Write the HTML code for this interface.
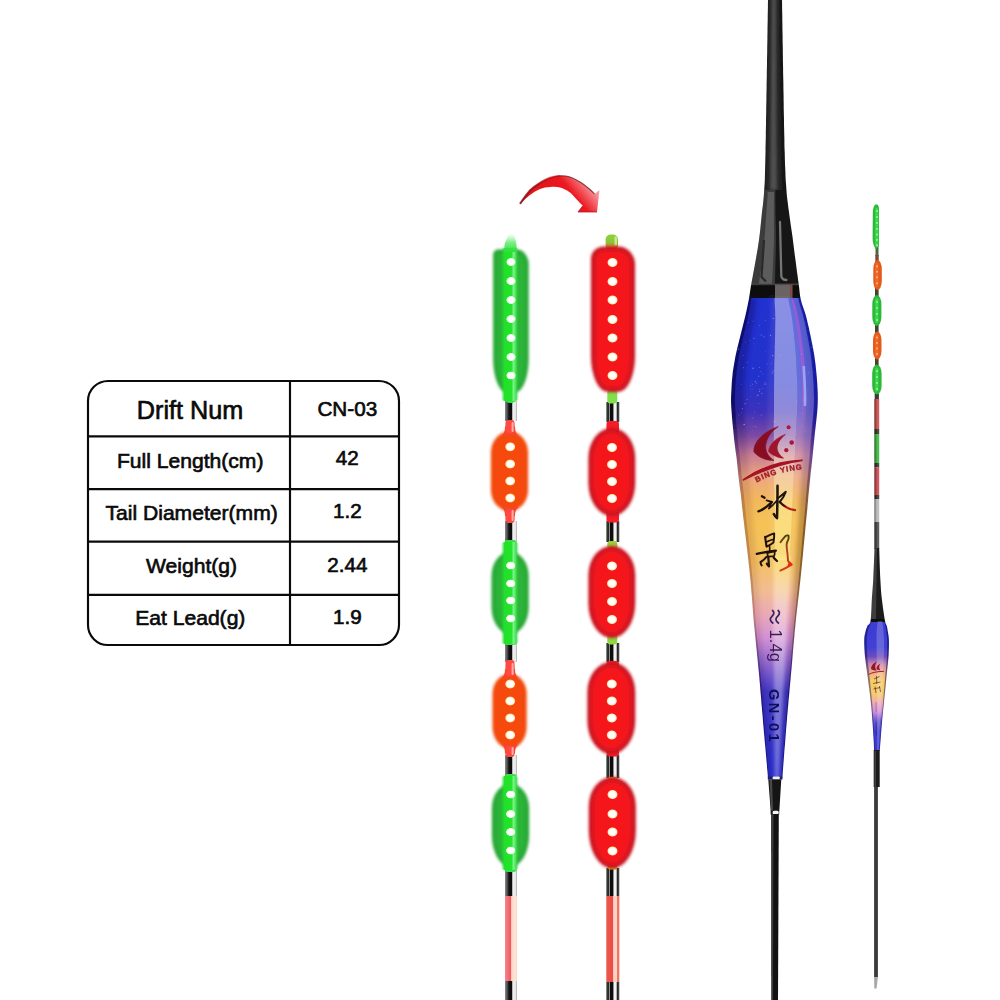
<!DOCTYPE html>
<html><head><meta charset="utf-8"><title>Drift CN-03</title>
<style>
html,body{margin:0;padding:0;background:#fff;}
body{width:1000px;height:1000px;overflow:hidden;position:relative;font-family:"Liberation Sans",sans-serif;}
svg{position:absolute;left:0;top:0;display:block}
text{font-family:"Liberation Sans",sans-serif;}
</style></head><body>
<svg width="1000" height="1000" viewBox="0 0 1000 1000">
<defs>
<filter id="b1" x="-100%" y="-20%" width="300%" height="140%"><feGaussianBlur stdDeviation="1.5"/></filter>
<filter id="b2" x="-100%" y="-20%" width="300%" height="140%"><feGaussianBlur stdDeviation="0.7"/></filter>
<filter id="b05" x="-60%" y="-30%" width="220%" height="160%"><feGaussianBlur stdDeviation="0.45"/></filter>
<filter id="b3" x="-50%" y="-50%" width="200%" height="200%"><feGaussianBlur stdDeviation="2.2"/></filter>
<linearGradient id="stemBlk" x1="0" x2="1" y1="0" y2="0">
 <stop offset="0" stop-color="#8a8a8c"/><stop offset="0.2" stop-color="#4a4a4c"/><stop offset="0.32" stop-color="#141414"/><stop offset="0.58" stop-color="#0a0a0a"/><stop offset="0.64" stop-color="#f2f2f2"/><stop offset="0.88" stop-color="#e6e6e6"/><stop offset="1" stop-color="#a8a8a8"/>
</linearGradient>
<linearGradient id="stemBlk2" x1="0" x2="1" y1="0" y2="0">
 <stop offset="0" stop-color="#4a5a4a"/><stop offset="0.16" stop-color="#1c1c1c"/><stop offset="0.24" stop-color="#9a9a9a"/><stop offset="0.32" stop-color="#111"/><stop offset="0.52" stop-color="#0c0c0c"/><stop offset="0.58" stop-color="#f4f4f4"/><stop offset="0.76" stop-color="#f0f0f0"/><stop offset="0.84" stop-color="#222"/><stop offset="1" stop-color="#555"/>
</linearGradient>
<linearGradient id="stemGrn" x1="0" x2="1" y1="0" y2="0">
 <stop offset="0" stop-color="#39d848"/><stop offset="0.45" stop-color="#2fe83f"/><stop offset="0.7" stop-color="#7cf58a"/><stop offset="1" stop-color="#35dc45"/>
</linearGradient>
<linearGradient id="stemRed" x1="0" x2="1" y1="0" y2="0">
 <stop offset="0" stop-color="#f25a5a"/><stop offset="0.5" stop-color="#f66"/><stop offset="0.75" stop-color="#fbb"/><stop offset="1" stop-color="#f88"/>
</linearGradient>
<linearGradient id="stemPink" x1="0" x2="1" y1="0" y2="0">
 <stop offset="0" stop-color="#f4868c"/><stop offset="0.3" stop-color="#f26a72"/><stop offset="0.48" stop-color="#f05a62"/><stop offset="0.55" stop-color="#fcd8c8"/><stop offset="0.9" stop-color="#fde6da"/><stop offset="1" stop-color="#f6ccc4"/>
</linearGradient>
<linearGradient id="stemRed2" x1="0" x2="1" y1="0" y2="0">
 <stop offset="0" stop-color="#e85850"/><stop offset="0.48" stop-color="#ee4c44"/><stop offset="0.56" stop-color="#fcd0c0"/><stop offset="0.8" stop-color="#fcd6c8"/><stop offset="0.86" stop-color="#f07868"/><stop offset="1" stop-color="#ec6c5e"/>
</linearGradient>
<radialGradient id="dot" cx="0.5" cy="0.5" r="0.5">
 <stop offset="0" stop-color="#fff"/><stop offset="0.55" stop-color="#fff"/><stop offset="0.8" stop-color="#ffe9b0"/><stop offset="1" stop-color="#ffd070" stop-opacity="0"/>
</radialGradient>
<radialGradient id="dotg" cx="0.5" cy="0.5" r="0.5">
 <stop offset="0" stop-color="#fff"/><stop offset="0.6" stop-color="#fff"/><stop offset="0.85" stop-color="#d8ffd8"/><stop offset="1" stop-color="#8f8" stop-opacity="0"/>
</radialGradient>
</defs>

<g fill="none" stroke="#0a0a0a" stroke-width="2.15">
<rect x="88" y="381" width="311" height="264" rx="20" ry="20"/>
<line x1="88" y1="436.3" x2="399" y2="436.3"/>
<line x1="88" y1="489.1" x2="399" y2="489.1"/>
<line x1="88" y1="541.6" x2="399" y2="541.6"/>
<line x1="88" y1="594.9" x2="399" y2="594.9"/>
<line x1="290" y1="381" x2="290" y2="645"/>
</g>
<g fill="#0a0a0a" stroke="#0a0a0a" stroke-width="0.65" text-anchor="middle">
<text x="190" y="418.8" font-size="25.2">Drift Num</text>
<text x="347.3" y="415.8" font-size="20.7">CN-03</text>
<text x="190.2" y="467.9" font-size="21.1">Full Length(cm)</text>
<text x="347.3" y="465.4" font-size="20.6">42</text>
<text x="191.6" y="520.4" font-size="21.1">Tail Diameter(mm)</text>
<text x="347.3" y="518.0" font-size="20.6">1.2</text>
<text x="191.6" y="572.5" font-size="21.1">Weight(g)</text>
<text x="347.3" y="571.6" font-size="20.6">2.44</text>
<text x="190.3" y="625.1" font-size="21.1">Eat Lead(g)</text>
<text x="347.3" y="624.0" font-size="20.6">1.9</text>
</g>
<g filter="url(#b05)">
<rect x="505.0" y="401.0" width="12.0" height="20.0" fill="url(#stemBlk)"/>
<rect x="505.0" y="521.0" width="12.0" height="21.0" fill="url(#stemBlk)"/>
<rect x="505.0" y="643.0" width="12.0" height="19.0" fill="url(#stemBlk)"/>
<rect x="505.0" y="755.0" width="12.0" height="21.0" fill="url(#stemBlk)"/>
<rect x="505.0" y="870.0" width="12.0" height="26.0" fill="url(#stemBlk)"/>
<rect x="505.0" y="896.0" width="12.0" height="85.0" fill="url(#stemPink)"/>
<rect x="505.0" y="981.0" width="12.0" height="19.0" fill="url(#stemBlk)"/>
</g>
<g filter="url(#b2)">
<rect x="504.5" y="250.0" width="12.0" height="153.0" rx="5" fill="#35e244"/>
<rect x="505.5" y="420.0" width="9.0" height="103.0" rx="3" fill="#ff4a40"/>
<rect x="504.5" y="540.0" width="12.0" height="105.0" rx="3" fill="#35e244"/>
<rect x="505.5" y="660.0" width="9.0" height="97.0" rx="3" fill="#ff4a40"/>
<rect x="504.5" y="774.0" width="12.0" height="98.0" rx="3" fill="#35e244"/>
</g>
<path d="M498.20,249.50 L516.60,249.50 A12.00,15.00 0 0 1 528.60,264.50 L528.60,358.00 A13.00,34.00 0 0 1 515.60,392.00 L506.20,392.00 A13.00,34.00 0 0 1 493.20,358.00 L493.20,254.50 A5.00,5.00 0 0 1 498.20,249.50 Z" fill="#27a435" filter="url(#b1)"/>
<path d="M498.20,253.00 L516.60,253.00 A8.50,11.50 0 0 1 525.10,264.50 L525.10,358.00 A9.50,30.50 0 0 1 515.60,388.50 L506.20,388.50 A9.50,30.50 0 0 1 496.70,358.00 L496.70,254.50 A1.50,1.50 0 0 1 498.20,253.00 Z" fill="#29b538" filter="url(#b3)"/>
<path d="M509.50,431.50 L509.50,431.50 A18.50,21.00 0 0 1 528.00,452.50 L528.00,490.00 A18.50,21.00 0 0 1 509.50,511.00 L509.50,511.00 A18.50,21.00 0 0 1 491.00,490.00 L491.00,452.50 A18.50,21.00 0 0 1 509.50,431.50 Z" fill="#f0490e" filter="url(#b1)"/>
<path d="M509.50,435.00 L509.50,435.00 A15.00,17.50 0 0 1 524.50,452.50 L524.50,490.00 A15.00,17.50 0 0 1 509.50,507.50 L509.50,507.50 A15.00,17.50 0 0 1 494.50,490.00 L494.50,452.50 A15.00,17.50 0 0 1 509.50,435.00 Z" fill="#f64a0c" filter="url(#b3)"/>
<path d="M510.10,552.00 L510.10,552.00 A18.50,24.00 0 0 1 528.60,576.00 L528.60,607.00 A18.50,27.00 0 0 1 510.10,634.00 L510.10,634.00 A18.50,27.00 0 0 1 491.60,607.00 L491.60,576.00 A18.50,24.00 0 0 1 510.10,552.00 Z" fill="#27a435" filter="url(#b1)"/>
<path d="M510.10,555.50 L510.10,555.50 A15.00,20.50 0 0 1 525.10,576.00 L525.10,607.00 A15.00,23.50 0 0 1 510.10,630.50 L510.10,630.50 A15.00,23.50 0 0 1 495.10,607.00 L495.10,576.00 A15.00,20.50 0 0 1 510.10,555.50 Z" fill="#29b538" filter="url(#b3)"/>
<path d="M509.60,674.00 L509.60,674.00 A17.00,20.00 0 0 1 526.60,694.00 L526.60,726.50 A17.00,22.00 0 0 1 509.60,748.50 L509.60,748.50 A17.00,22.00 0 0 1 492.60,726.50 L492.60,694.00 A17.00,20.00 0 0 1 509.60,674.00 Z" fill="#f0490e" filter="url(#b1)"/>
<path d="M509.60,677.50 L509.60,677.50 A13.50,16.50 0 0 1 523.10,694.00 L523.10,726.50 A13.50,18.50 0 0 1 509.60,745.00 L509.60,745.00 A13.50,18.50 0 0 1 496.10,726.50 L496.10,694.00 A13.50,16.50 0 0 1 509.60,677.50 Z" fill="#f64a0c" filter="url(#b3)"/>
<path d="M510.50,784.00 L510.50,784.00 A18.50,24.00 0 0 1 529.00,808.00 L529.00,835.50 A18.50,31.00 0 0 1 510.50,866.50 L510.50,866.50 A18.50,31.00 0 0 1 492.00,835.50 L492.00,808.00 A18.50,24.00 0 0 1 510.50,784.00 Z" fill="#27a435" filter="url(#b1)"/>
<path d="M510.50,787.50 L510.50,787.50 A15.00,20.50 0 0 1 525.50,808.00 L525.50,835.50 A15.00,27.50 0 0 1 510.50,863.00 L510.50,863.00 A15.00,27.50 0 0 1 495.50,835.50 L495.50,808.00 A15.00,20.50 0 0 1 510.50,787.50 Z" fill="#29b538" filter="url(#b3)"/>
<path d="M505.0,426.5 C505.0,431.1 504.1,433.5 501.5,435.5 L518.5,435.5 C516.0,433.5 515.0,431.1 515.0,426.5 Z" fill="#f8452a" filter="url(#b2)"/>
<path d="M505.0,669.0 C505.0,673.5 504.1,676.0 501.5,678.0 L518.5,678.0 C516.0,676.0 515.0,673.5 515.0,669.0 Z" fill="#f8452a" filter="url(#b2)"/>
<path d="M505.0,516.0 C505.0,511.4 504.1,509.0 501.5,507.0 L518.5,507.0 C516.0,509.0 515.0,511.4 515.0,516.0 Z" fill="#f8452a" filter="url(#b2)"/>
<path d="M505.0,753.5 C505.0,749.0 504.1,746.5 501.5,744.5 L518.5,744.5 C516.0,746.5 515.0,749.0 515.0,753.5 Z" fill="#f8452a" filter="url(#b2)"/>
<defs><linearGradient id="gstripe" x1="0" x2="1" y1="0" y2="0"><stop offset="0" stop-color="#24dc32" stop-opacity="0"/><stop offset="0.2" stop-color="#22e02c"/><stop offset="0.58" stop-color="#22e42c"/><stop offset="0.7" stop-color="#7af486"/><stop offset="0.8" stop-color="#4ee85c"/><stop offset="1" stop-color="#2cc03c" stop-opacity="0"/></linearGradient>
<linearGradient id="gtip" x1="0" x2="0" y1="0" y2="1"><stop offset="0" stop-color="#6cf078" stop-opacity="0"/><stop offset="0.5" stop-color="#4ce85a" stop-opacity="0.75"/><stop offset="1" stop-color="#2ce03a"/></linearGradient></defs>
<g filter="url(#b2)">
<rect x="501.0" y="248.0" width="18" height="153.0" rx="4" fill="url(#gstripe)"/>
<rect x="501.0" y="542.0" width="18" height="102.0" rx="4" fill="url(#gstripe)"/>
<rect x="501.0" y="776.0" width="18" height="94.0" rx="4" fill="url(#gstripe)"/>
<rect x="505.8" y="421.0" width="8.6" height="12.0" rx="3" fill="#ff4a44" opacity="0.9"/>
<rect x="511.6" y="422.0" width="2" height="10.0" rx="1" fill="#ffb0a8"/>
<rect x="505.8" y="509.0" width="8.6" height="13.0" rx="3" fill="#ff4a44" opacity="0.9"/>
<rect x="511.6" y="510.0" width="2" height="11.0" rx="1" fill="#ffb0a8"/>
<rect x="505.8" y="662.0" width="8.6" height="14.0" rx="3" fill="#ff4a44" opacity="0.9"/>
<rect x="511.6" y="663.0" width="2" height="12.0" rx="1" fill="#ffb0a8"/>
<rect x="505.8" y="746.0" width="8.6" height="10.0" rx="3" fill="#ff4a44" opacity="0.9"/>
<rect x="511.6" y="747.0" width="2" height="8.0" rx="1" fill="#ffb0a8"/>
</g>
<path d="M504,252 L504.6,244 Q508,233.5 511,233.5 Q515,233.5 516.4,244 L517,252 Z" fill="url(#gtip)" filter="url(#b2)"/>
<ellipse cx="511.0" cy="262.0" rx="5.0" ry="4.3" fill="url(#dotg)"/>
<ellipse cx="511.0" cy="281.0" rx="5.0" ry="4.3" fill="url(#dotg)"/>
<ellipse cx="511.0" cy="300.0" rx="5.0" ry="4.3" fill="url(#dotg)"/>
<ellipse cx="511.0" cy="319.0" rx="5.0" ry="4.3" fill="url(#dotg)"/>
<ellipse cx="511.0" cy="338.0" rx="5.0" ry="4.3" fill="url(#dotg)"/>
<ellipse cx="511.0" cy="357.0" rx="5.0" ry="4.3" fill="url(#dotg)"/>
<ellipse cx="511.0" cy="375.5" rx="5.0" ry="4.3" fill="url(#dotg)"/>
<ellipse cx="510.2" cy="446.8" rx="5.4" ry="4.9" fill="url(#dot)"/>
<ellipse cx="510.2" cy="464.0" rx="5.4" ry="4.9" fill="url(#dot)"/>
<ellipse cx="510.2" cy="481.0" rx="5.4" ry="4.9" fill="url(#dot)"/>
<ellipse cx="510.2" cy="498.0" rx="5.4" ry="4.9" fill="url(#dot)"/>
<ellipse cx="510.7" cy="565.5" rx="5.0" ry="4.3" fill="url(#dotg)"/>
<ellipse cx="510.7" cy="583.5" rx="5.0" ry="4.3" fill="url(#dotg)"/>
<ellipse cx="510.7" cy="600.5" rx="5.0" ry="4.3" fill="url(#dotg)"/>
<ellipse cx="510.7" cy="618.5" rx="5.0" ry="4.3" fill="url(#dotg)"/>
<ellipse cx="510.2" cy="684.0" rx="5.4" ry="4.9" fill="url(#dot)"/>
<ellipse cx="510.2" cy="701.0" rx="5.4" ry="4.9" fill="url(#dot)"/>
<ellipse cx="510.2" cy="718.0" rx="5.4" ry="4.9" fill="url(#dot)"/>
<ellipse cx="510.2" cy="735.0" rx="5.4" ry="4.9" fill="url(#dot)"/>
<ellipse cx="510.7" cy="794.5" rx="5.0" ry="4.3" fill="url(#dotg)"/>
<ellipse cx="510.7" cy="814.0" rx="5.0" ry="4.3" fill="url(#dotg)"/>
<ellipse cx="510.7" cy="832.0" rx="5.0" ry="4.3" fill="url(#dotg)"/>
<ellipse cx="510.7" cy="850.5" rx="5.0" ry="4.3" fill="url(#dotg)"/>
<g filter="url(#b05)">
<rect x="606.3" y="402.0" width="13.0" height="20.0" fill="url(#stemBlk2)"/>
<rect x="606.3" y="521.0" width="13.0" height="21.0" fill="url(#stemBlk2)"/>
<rect x="606.3" y="643.0" width="13.0" height="19.0" fill="url(#stemBlk2)"/>
<rect x="606.3" y="755.0" width="13.0" height="23.0" fill="url(#stemBlk2)"/>
<rect x="606.3" y="868.0" width="13.0" height="28.0" fill="url(#stemBlk2)"/>
<rect x="606.3" y="896.0" width="13.0" height="86.0" fill="url(#stemRed2)"/>
<rect x="606.3" y="982.0" width="13.0" height="18.0" fill="url(#stemBlk2)"/>
</g>
<g filter="url(#b2)">
<defs><linearGradient id="rtip" x1="0" x2="0" y1="0" y2="1"><stop offset="0" stop-color="#8ed040"/><stop offset="0.45" stop-color="#86c838"/><stop offset="0.75" stop-color="#c89030"/><stop offset="1" stop-color="#f03020"/></linearGradient></defs>
<rect x="605.6" y="234.5" width="12.4" height="16" rx="5" fill="url(#rtip)"/>
<rect x="614.4" y="236.5" width="2.6" height="9" rx="1.3" fill="#d8f0a0" opacity="0.8"/>
<rect x="607.3" y="390.0" width="10.0" height="13.5" rx="3" fill="#7fe048"/>
<rect x="606.5" y="421.0" width="12.5" height="13.0" rx="3" fill="#f81c28"/>
<rect x="606.5" y="510.0" width="12.5" height="12.5" rx="3" fill="#f81c28"/>
<rect x="607.3" y="541.0" width="10.0" height="9.0" rx="3" fill="#9ccc38"/>
<rect x="607.3" y="634.0" width="10.0" height="10.5" rx="3" fill="#8fd840"/>
<rect x="606.5" y="661.0" width="12.5" height="9.0" rx="3" fill="#f81c28"/>
<rect x="606.5" y="746.0" width="12.5" height="10.5" rx="3" fill="#f81c28"/>
<rect x="607.3" y="777.0" width="10.0" height="5.0" rx="3" fill="#c8a820"/>
<rect x="607.3" y="864.0" width="10.0" height="5.5" rx="3" fill="#c8b020"/>
</g>
<path d="M604.00,246.50 L618.00,246.50 A17.00,18.00 0 0 1 635.00,264.50 L635.00,356.00 A17.00,36.00 0 0 1 618.00,392.00 L608.00,392.00 A17.00,36.00 0 0 1 591.00,356.00 L591.00,258.50 A13.00,12.00 0 0 1 604.00,246.50 Z" fill="#c41622" filter="url(#b1)"/>
<path d="M604.00,250.50 L618.00,250.50 A13.00,14.00 0 0 1 631.00,264.50 L631.00,356.00 A13.00,32.00 0 0 1 618.00,388.00 L608.00,388.00 A13.00,32.00 0 0 1 595.00,356.00 L595.00,258.50 A9.00,8.00 0 0 1 604.00,250.50 Z" fill="#f5141f" filter="url(#b3)"/>
<path d="M611.80,428.00 L611.80,428.00 A23.40,30.00 0 0 1 635.20,458.00 L635.20,483.00 A23.40,33.00 0 0 1 611.80,516.00 L611.80,516.00 A23.40,33.00 0 0 1 588.40,483.00 L588.40,458.00 A23.40,30.00 0 0 1 611.80,428.00 Z" fill="#c41622" filter="url(#b1)"/>
<path d="M611.80,432.00 L611.80,432.00 A19.40,26.00 0 0 1 631.20,458.00 L631.20,483.00 A19.40,29.00 0 0 1 611.80,512.00 L611.80,512.00 A19.40,29.00 0 0 1 592.40,483.00 L592.40,458.00 A19.40,26.00 0 0 1 611.80,432.00 Z" fill="#f5141f" filter="url(#b3)"/>
<path d="M611.80,546.00 L611.80,546.00 A23.40,29.00 0 0 1 635.20,575.00 L635.20,603.00 A23.40,35.00 0 0 1 611.80,638.00 L611.80,638.00 A23.40,35.00 0 0 1 588.40,603.00 L588.40,575.00 A23.40,29.00 0 0 1 611.80,546.00 Z" fill="#c41622" filter="url(#b1)"/>
<path d="M611.80,550.00 L611.80,550.00 A19.40,25.00 0 0 1 631.20,575.00 L631.20,603.00 A19.40,31.00 0 0 1 611.80,634.00 L611.80,634.00 A19.40,31.00 0 0 1 592.40,603.00 L592.40,575.00 A19.40,25.00 0 0 1 611.80,550.00 Z" fill="#f5141f" filter="url(#b3)"/>
<path d="M611.30,662.00 L611.30,662.00 A23.90,30.00 0 0 1 635.20,692.00 L635.20,721.00 A23.90,33.00 0 0 1 611.30,754.00 L611.30,754.00 A23.90,33.00 0 0 1 587.40,721.00 L587.40,692.00 A23.90,30.00 0 0 1 611.30,662.00 Z" fill="#c41622" filter="url(#b1)"/>
<path d="M611.30,666.00 L611.30,666.00 A19.90,26.00 0 0 1 631.20,692.00 L631.20,721.00 A19.90,29.00 0 0 1 611.30,750.00 L611.30,750.00 A19.90,29.00 0 0 1 591.40,721.00 L591.40,692.00 A19.90,26.00 0 0 1 611.30,666.00 Z" fill="#f5141f" filter="url(#b3)"/>
<path d="M612.30,777.00 L612.30,777.00 A23.50,29.00 0 0 1 635.80,806.00 L635.80,830.50 A23.50,38.00 0 0 1 612.30,868.50 L612.30,868.50 A23.50,38.00 0 0 1 588.80,830.50 L588.80,806.00 A23.50,29.00 0 0 1 612.30,777.00 Z" fill="#c41622" filter="url(#b1)"/>
<path d="M612.30,781.00 L612.30,781.00 A19.50,25.00 0 0 1 631.80,806.00 L631.80,830.50 A19.50,34.00 0 0 1 612.30,864.50 L612.30,864.50 A19.50,34.00 0 0 1 592.80,830.50 L592.80,806.00 A19.50,25.00 0 0 1 612.30,781.00 Z" fill="#f5141f" filter="url(#b3)"/>
<ellipse cx="612.5" cy="262.5" rx="5.5" ry="5.0" fill="url(#dot)"/>
<ellipse cx="612.5" cy="281.5" rx="5.5" ry="5.0" fill="url(#dot)"/>
<ellipse cx="612.5" cy="300.0" rx="5.5" ry="5.0" fill="url(#dot)"/>
<ellipse cx="612.5" cy="319.5" rx="5.5" ry="5.0" fill="url(#dot)"/>
<ellipse cx="612.5" cy="338.0" rx="5.5" ry="5.0" fill="url(#dot)"/>
<ellipse cx="612.5" cy="357.0" rx="5.5" ry="5.0" fill="url(#dot)"/>
<ellipse cx="612.5" cy="375.5" rx="5.5" ry="5.0" fill="url(#dot)"/>
<ellipse cx="612.0" cy="447.5" rx="5.5" ry="5.0" fill="url(#dot)"/>
<ellipse cx="612.0" cy="464.5" rx="5.5" ry="5.0" fill="url(#dot)"/>
<ellipse cx="612.0" cy="481.5" rx="5.5" ry="5.0" fill="url(#dot)"/>
<ellipse cx="612.0" cy="498.5" rx="5.5" ry="5.0" fill="url(#dot)"/>
<ellipse cx="612.0" cy="566.0" rx="5.5" ry="5.0" fill="url(#dot)"/>
<ellipse cx="612.0" cy="583.5" rx="5.5" ry="5.0" fill="url(#dot)"/>
<ellipse cx="612.0" cy="601.5" rx="5.5" ry="5.0" fill="url(#dot)"/>
<ellipse cx="612.0" cy="619.5" rx="5.5" ry="5.0" fill="url(#dot)"/>
<ellipse cx="611.8" cy="684.0" rx="5.5" ry="5.0" fill="url(#dot)"/>
<ellipse cx="611.8" cy="701.0" rx="5.5" ry="5.0" fill="url(#dot)"/>
<ellipse cx="611.8" cy="718.0" rx="5.5" ry="5.0" fill="url(#dot)"/>
<ellipse cx="611.8" cy="735.0" rx="5.5" ry="5.0" fill="url(#dot)"/>
<ellipse cx="612.5" cy="794.5" rx="5.5" ry="5.0" fill="url(#dot)"/>
<ellipse cx="612.5" cy="814.0" rx="5.5" ry="5.0" fill="url(#dot)"/>
<ellipse cx="612.5" cy="832.0" rx="5.5" ry="5.0" fill="url(#dot)"/>
<ellipse cx="612.5" cy="851.0" rx="5.5" ry="5.0" fill="url(#dot)"/>
<defs><linearGradient id="arr" gradientUnits="userSpaceOnUse" x1="566" y1="214" x2="600" y2="186">
<stop offset="0" stop-color="#e4121a"/><stop offset="0.42" stop-color="#ec1a22"/><stop offset="0.62" stop-color="#f2555c"/><stop offset="0.85" stop-color="#f79aa0"/><stop offset="1" stop-color="#f9b0b4"/></linearGradient>
<linearGradient id="arrT" gradientUnits="userSpaceOnUse" x1="520" y1="0" x2="560" y2="0">
<stop offset="0" stop-color="#8a0c12"/><stop offset="1" stop-color="#e4121a"/></linearGradient>
</defs>
<g filter="url(#b05)">
<path d="M520.00,203.80 C521.67,201.58 526.67,193.97 530.00,190.50 C533.33,187.03 536.67,185.08 540.00,183.00 C543.33,180.92 546.67,179.20 550.00,178.00 C553.33,176.80 556.67,175.97 560.00,175.80 C563.33,175.63 566.67,175.97 570.00,177.00 C573.33,178.03 576.67,179.92 580.00,182.00 C583.33,184.08 587.58,187.50 590.00,189.50 C592.42,191.50 593.75,193.25 594.50,194.00 L599.5,190 L597,212 L578,212 L583.00,205.50 C582.50,205.08 582.17,205.17 580.00,203.00 C577.83,200.83 573.33,195.08 570.00,192.50 C566.67,189.92 563.33,188.42 560.00,187.50 C556.67,186.58 553.33,186.75 550.00,187.00 C546.67,187.25 543.33,187.67 540.00,189.00 C536.67,190.33 533.33,192.53 530.00,195.00 C526.67,197.47 521.67,202.33 520.00,203.80 Z" fill="url(#arr)"/>
<path d="M520.00,203.80 C521.67,201.58 526.67,193.97 530.00,190.50 C533.33,187.03 536.67,185.08 540.00,183.00 C543.33,180.92 546.67,179.20 550.00,178.00 C553.33,176.80 556.67,175.97 560.00,175.80 C563.33,175.63 566.67,175.97 570.00,177.00 C573.33,178.03 576.67,179.92 580.00,182.00 C583.33,184.08 587.58,187.50 590.00,189.50 C592.42,191.50 593.75,193.25 594.50,194.00" fill="none" stroke="#5a0a0e" stroke-width="1.2" opacity="0.7"/>
<path d="M520.00,203.80 C521.67,201.58 526.67,193.97 530.00,190.50 C533.33,187.03 536.67,185.08 540.00,183.00 C543.33,180.92 546.67,179.20 550.00,178.00 C553.33,176.80 558.33,176.17 560.00,175.80" fill="none" stroke="url(#arrT)" stroke-width="2.4" opacity="0.6"/>
<path d="M597,212 L578,212 L583,205.5" fill="none" stroke="#b00c14" stroke-width="1" opacity="0.7"/>
</g>
<defs><clipPath id="bigclip"><path d="M768.0,0.0 L767.9,4.0 L767.9,8.0 L767.8,12.0 L767.7,16.0 L767.7,20.0 L767.6,24.0 L767.5,28.0 L767.5,32.0 L767.4,36.0 L767.4,40.0 L767.3,44.0 L767.2,48.0 L767.2,52.0 L767.1,56.0 L767.0,60.0 L767.0,64.0 L766.9,68.0 L766.8,72.0 L766.8,76.0 L766.7,80.0 L766.6,84.0 L766.6,88.0 L766.5,92.0 L766.4,96.0 L766.4,100.0 L766.3,104.0 L766.2,108.0 L766.2,112.0 L766.1,116.0 L766.0,120.0 L766.0,124.0 L765.9,128.0 L765.8,132.0 L765.8,136.0 L765.7,140.0 L765.6,144.0 L765.5,148.0 L765.5,152.0 L765.4,156.0 L765.3,160.0 L765.2,164.0 L765.1,168.0 L765.0,172.0 L764.9,176.0 L764.8,180.0 L764.6,184.0 L764.3,188.0 L764.1,192.0 L763.8,196.0 L763.4,200.0 L763.0,204.0 L762.5,208.0 L762.0,212.0 L761.6,216.0 L761.2,220.0 L760.8,224.0 L760.4,228.0 L760.0,232.0 L759.5,236.0 L759.0,240.0 L758.4,244.0 L757.8,248.0 L757.1,252.0 L756.4,256.0 L755.7,260.0 L755.0,264.0 L754.3,268.0 L753.5,272.0 L752.8,276.0 L752.0,280.0 L751.3,284.0 L750.6,288.0 L750.0,292.0 L749.4,296.0 L748.7,300.0 L747.9,304.0 L747.1,308.0 L746.2,312.0 L745.3,316.0 L744.3,320.0 L743.3,324.0 L742.3,328.0 L741.3,332.0 L740.3,336.0 L739.3,340.0 L738.3,344.0 L737.3,348.0 L736.4,352.0 L735.5,356.0 L734.8,360.0 L734.1,364.0 L733.4,368.0 L732.8,372.0 L732.4,376.0 L732.0,380.0 L731.7,384.0 L731.5,388.0 L731.3,392.0 L731.1,396.0 L731.0,400.0 L731.1,404.0 L731.3,408.0 L731.6,412.0 L731.9,416.0 L732.2,420.0 L732.6,424.0 L733.0,428.0 L733.4,432.0 L733.8,436.0 L734.2,440.0 L734.7,444.0 L735.2,448.0 L735.7,452.0 L736.3,456.0 L736.8,460.0 L737.2,464.0 L737.6,468.0 L738.0,472.0 L738.4,476.0 L738.9,480.0 L739.4,484.0 L739.9,488.0 L740.5,492.0 L741.0,496.0 L741.4,500.0 L741.8,504.0 L742.2,508.0 L742.7,512.0 L743.1,516.0 L743.6,520.0 L744.1,524.0 L744.5,528.0 L745.0,532.0 L745.5,536.0 L746.0,540.0 L746.4,544.0 L746.9,548.0 L747.4,552.0 L747.8,556.0 L748.3,560.0 L748.7,564.0 L749.2,568.0 L749.6,572.0 L750.0,576.0 L750.4,580.0 L750.8,584.0 L751.1,588.0 L751.4,592.0 L751.8,596.0 L752.1,600.0 L752.4,604.0 L752.7,608.0 L753.0,612.0 L753.3,616.0 L753.6,620.0 L754.0,624.0 L754.4,628.0 L754.8,632.0 L755.2,636.0 L755.6,640.0 L756.0,644.0 L756.4,648.0 L756.8,652.0 L757.2,656.0 L757.6,660.0 L758.0,664.0 L758.4,668.0 L758.8,672.0 L759.2,676.0 L759.5,680.0 L759.9,684.0 L760.2,688.0 L760.5,692.0 L760.9,696.0 L761.2,700.0 L761.5,704.0 L761.9,708.0 L762.2,712.0 L762.6,716.0 L762.9,720.0 L763.2,724.0 L763.6,728.0 L763.9,732.0 L764.3,736.0 L764.6,740.0 L765.0,744.0 L765.4,748.0 L765.7,752.0 L766.1,756.0 L766.4,760.0 L766.8,764.0 L767.1,768.0 L767.5,772.0 L767.8,776.0 L768.0,778.0 L782.3,778.0 L782.5,776.0 L782.8,772.0 L783.1,768.0 L783.4,764.0 L783.7,760.0 L784.0,756.0 L784.3,752.0 L784.6,748.0 L785.0,744.0 L785.3,740.0 L785.6,736.0 L785.9,732.0 L786.2,728.0 L786.6,724.0 L786.9,720.0 L787.2,716.0 L787.6,712.0 L787.9,708.0 L788.3,704.0 L788.6,700.0 L789.0,696.0 L789.4,692.0 L789.7,688.0 L790.1,684.0 L790.5,680.0 L790.8,676.0 L791.2,672.0 L791.6,668.0 L791.9,664.0 L792.3,660.0 L792.6,656.0 L792.9,652.0 L793.3,648.0 L793.6,644.0 L794.0,640.0 L794.4,636.0 L794.7,632.0 L795.1,628.0 L795.5,624.0 L795.9,620.0 L796.3,616.0 L796.8,612.0 L797.2,608.0 L797.7,604.0 L798.1,600.0 L798.6,596.0 L799.1,592.0 L799.5,588.0 L799.9,584.0 L800.4,580.0 L800.8,576.0 L801.2,572.0 L801.6,568.0 L802.0,564.0 L802.4,560.0 L802.8,556.0 L803.2,552.0 L803.5,548.0 L803.9,544.0 L804.3,540.0 L804.7,536.0 L805.1,532.0 L805.4,528.0 L805.8,524.0 L806.2,520.0 L806.6,516.0 L807.0,512.0 L807.4,508.0 L807.7,504.0 L808.1,500.0 L808.4,496.0 L808.8,492.0 L809.2,488.0 L809.6,484.0 L810.0,480.0 L810.4,476.0 L810.8,472.0 L811.3,468.0 L811.7,464.0 L812.2,460.0 L812.6,456.0 L813.0,452.0 L813.4,448.0 L813.8,444.0 L814.2,440.0 L814.6,436.0 L815.0,432.0 L815.5,428.0 L815.9,424.0 L816.4,420.0 L816.8,416.0 L817.2,412.0 L817.5,408.0 L817.7,404.0 L817.8,400.0 L817.8,396.0 L817.7,392.0 L817.5,388.0 L817.3,384.0 L817.0,380.0 L816.7,376.0 L816.3,372.0 L815.9,368.0 L815.5,364.0 L814.9,360.0 L814.4,356.0 L813.7,352.0 L813.0,348.0 L812.2,344.0 L811.4,340.0 L810.6,336.0 L809.7,332.0 L808.9,328.0 L807.9,324.0 L807.0,320.0 L806.0,316.0 L804.8,312.0 L803.4,308.0 L802.0,304.0 L800.9,300.0 L800.1,296.0 L799.6,292.0 L799.2,288.0 L798.7,284.0 L798.1,280.0 L797.6,276.0 L797.0,272.0 L796.5,268.0 L796.0,264.0 L795.5,260.0 L794.9,256.0 L794.4,252.0 L793.9,248.0 L793.4,244.0 L792.9,240.0 L792.4,236.0 L791.8,232.0 L791.2,228.0 L790.6,224.0 L790.1,220.0 L789.5,216.0 L789.0,212.0 L788.4,208.0 L787.9,204.0 L787.4,200.0 L786.9,196.0 L786.6,192.0 L786.3,188.0 L786.0,184.0 L785.7,180.0 L785.5,176.0 L785.4,172.0 L785.2,168.0 L785.0,164.0 L784.9,160.0 L784.8,156.0 L784.7,152.0 L784.5,148.0 L784.4,144.0 L784.4,140.0 L784.3,136.0 L784.2,132.0 L784.1,128.0 L784.0,124.0 L784.0,120.0 L783.9,116.0 L783.8,112.0 L783.7,108.0 L783.7,104.0 L783.6,100.0 L783.6,96.0 L783.5,92.0 L783.4,88.0 L783.4,84.0 L783.3,80.0 L783.2,76.0 L783.1,72.0 L783.1,68.0 L783.0,64.0 L782.9,60.0 L782.9,56.0 L782.8,52.0 L782.8,48.0 L782.7,44.0 L782.6,40.0 L782.6,36.0 L782.5,32.0 L782.4,28.0 L782.4,24.0 L782.3,20.0 L782.3,16.0 L782.2,12.0 L782.1,8.0 L782.1,4.0 L782.0,0.0 Z"/></clipPath>
<linearGradient id="bodyV" x1="0" x2="0" y1="298" y2="778" gradientUnits="userSpaceOnUse">
<stop offset="0" stop-color="#2430d0"/>
<stop offset="0.17" stop-color="#2430cc"/>
<stop offset="0.235" stop-color="#3a30bc"/>
<stop offset="0.285" stop-color="#7a48a4"/>
<stop offset="0.325" stop-color="#c67a94"/>
<stop offset="0.37" stop-color="#eba680"/>
<stop offset="0.42" stop-color="#f3b85e"/>
<stop offset="0.47" stop-color="#f5c256"/>
<stop offset="0.55" stop-color="#f4c062"/>
<stop offset="0.61" stop-color="#f2bc92"/>
<stop offset="0.66" stop-color="#eaa8b8"/>
<stop offset="0.71" stop-color="#d090d4"/>
<stop offset="0.765" stop-color="#8c64cc"/>
<stop offset="0.82" stop-color="#4238c4"/>
<stop offset="1" stop-color="#2a2ccc"/>
</linearGradient>
<linearGradient id="hlV" x1="0" x2="0" y1="298" y2="778" gradientUnits="userSpaceOnUse">
<stop offset="0" stop-color="#fff" stop-opacity="0.42"/>
<stop offset="0.28" stop-color="#fff" stop-opacity="0.38"/>
<stop offset="0.38" stop-color="#fff6c0" stop-opacity="0.42"/>
<stop offset="0.46" stop-color="#fff088" stop-opacity="0.55"/>
<stop offset="0.56" stop-color="#fff088" stop-opacity="0.5"/>
<stop offset="0.64" stop-color="#fff" stop-opacity="0.3"/>
<stop offset="1" stop-color="#fff" stop-opacity="0.22"/>
</linearGradient>
</defs>
<g clip-path="url(#bigclip)" filter="url(#b05)">
<rect x="720" y="-5" width="120" height="200" fill="#232323"/>
<path d="M771.6,-8.0 L771.6,-2.0 L771.6,4.0 L771.6,10.0 L771.5,16.0 L771.5,22.0 L771.4,28.0 L771.4,34.0 L771.3,40.0 L771.3,46.0 L771.2,52.0 L771.2,58.0 L771.1,64.0 L771.1,70.0 L771.0,76.0 L771.0,82.0 L771.0,88.0 L770.9,94.0 L770.9,100.0 L770.8,106.0 L770.8,112.0 L770.7,118.0 L770.7,124.0 L770.6,130.0 L770.6,136.0 L770.5,142.0 L770.5,148.0 L770.4,154.0 L770.4,160.0 L770.4,166.0 L770.3,172.0 L770.3,178.0 L770.1,184.0 L770.0,190.0 L777.1,190.0 L777.0,184.0 L776.9,178.0 L776.8,172.0 L776.7,166.0 L776.7,160.0 L776.6,154.0 L776.6,148.0 L776.5,142.0 L776.5,136.0 L776.5,130.0 L776.4,124.0 L776.4,118.0 L776.4,112.0 L776.4,106.0 L776.4,100.0 L776.4,94.0 L776.3,88.0 L776.3,82.0 L776.3,76.0 L776.3,70.0 L776.3,64.0 L776.3,58.0 L776.2,52.0 L776.2,46.0 L776.2,40.0 L776.2,34.0 L776.2,28.0 L776.2,22.0 L776.2,16.0 L776.1,10.0 L776.1,4.0 L776.1,-2.0 L776.1,-8.0 Z" fill="#505050" filter="url(#b1)"/>
<path d="M779.5,-8.0 L779.5,-2.0 L779.5,4.0 L779.6,10.0 L779.6,16.0 L779.7,22.0 L779.8,28.0 L779.8,34.0 L779.9,40.0 L779.9,46.0 L780.0,52.0 L780.1,58.0 L780.1,64.0 L780.2,70.0 L780.3,76.0 L780.3,82.0 L780.4,88.0 L780.5,94.0 L780.5,100.0 L780.6,106.0 L780.6,112.0 L780.7,118.0 L780.8,124.0 L780.9,130.0 L780.9,136.0 L781.0,142.0 L781.1,148.0 L781.2,154.0 L781.4,160.0 L781.5,166.0 L781.7,172.0 L781.9,178.0 L782.1,184.0 L782.4,190.0 L787.5,190.0 L787.1,184.0 L786.7,178.0 L786.4,172.0 L786.1,166.0 L785.9,160.0 L785.7,154.0 L785.5,148.0 L785.3,142.0 L785.2,136.0 L785.1,130.0 L784.9,124.0 L784.8,118.0 L784.7,112.0 L784.6,106.0 L784.5,100.0 L784.4,94.0 L784.3,88.0 L784.2,82.0 L784.0,76.0 L783.9,70.0 L783.8,64.0 L783.7,58.0 L783.6,52.0 L783.5,46.0 L783.4,40.0 L783.3,34.0 L783.2,28.0 L783.1,22.0 L783.0,16.0 L782.9,10.0 L782.8,4.0 L782.7,-2.0 L782.7,-8.0 Z" fill="#171717" filter="url(#b2)"/>
<rect x="720" y="190" width="120" height="95" fill="#161616"/>
<path d="M764.2,190.0 L763.8,196.0 L763.2,202.0 L762.5,208.0 L761.8,214.0 L761.2,220.0 L760.6,226.0 L760.0,232.0 L759.3,238.0 L758.4,244.0 L757.4,250.0 L756.4,256.0 L755.3,262.0 L754.3,268.0 L753.2,274.0 L752.0,280.0 L751.3,284.0 L775.0,284.0 L775.1,280.0 L775.2,274.0 L775.4,268.0 L775.5,262.0 L775.7,256.0 L775.8,250.0 L775.9,244.0 L775.9,238.0 L775.9,232.0 L775.8,226.0 L775.6,220.0 L775.5,214.0 L775.5,208.0 L775.4,202.0 L775.3,196.0 L775.3,190.0 Z" fill="#3a3a3a"/>
<path d="M767.7,192.0 L767.4,198.0 L767.0,204.0 L766.5,210.0 L766.1,216.0 L765.7,222.0 L765.3,228.0 L764.9,234.0 L764.4,240.0 L763.8,246.0 L763.1,252.0 L762.3,258.0 L761.5,264.0 L760.8,270.0 L759.9,276.0 L759.1,282.0 L758.9,284.0 L772.2,284.0 L772.2,282.0 L772.5,276.0 L772.8,270.0 L773.0,264.0 L773.3,258.0 L773.5,252.0 L773.8,246.0 L773.9,240.0 L774.0,234.0 L774.0,228.0 L773.9,222.0 L773.9,216.0 L773.9,210.0 L773.9,204.0 L774.0,198.0 L774.0,192.0 Z" fill="#5c5c5c" filter="url(#b2)"/>
<path d="M764,240 L761.5,277 L766,281.5" fill="none" stroke="#2a2a2a" stroke-width="2.2" stroke-linejoin="round"/>
<path d="M780,222 L781.3,276 Q782,280 786.5,280" fill="none" stroke="#747474" stroke-width="2.3" stroke-linecap="round"/>
<rect x="720" y="284" width="120" height="14.5" fill="#111"/>
<rect x="775" y="284" width="15.5" height="14.5" fill="#6a6464"/>
<rect x="790.2" y="284" width="2.3" height="14.5" fill="#8a4a44"/>
<rect x="720" y="283.5" width="120" height="1.6" fill="#4a4a4a" opacity="0.8"/>
<rect x="720" y="298" width="120" height="480" fill="url(#bodyV)"/>
<defs><linearGradient id="vg1" gradientUnits="userSpaceOnUse" x1="0" x2="0" y1="298" y2="778"><stop offset="0.0000" stop-color="#050540" stop-opacity="0.55"/><stop offset="0.2542" stop-color="#050540" stop-opacity="0.55"/><stop offset="0.3167" stop-color="#40205a" stop-opacity="0.42"/><stop offset="0.3792" stop-color="#6a3030" stop-opacity="0.32"/><stop offset="0.4625" stop-color="#7a3420" stop-opacity="0.3"/><stop offset="0.6708" stop-color="#7a3420" stop-opacity="0.28"/><stop offset="0.7542" stop-color="#2a1060" stop-opacity="0.45"/><stop offset="0.8375" stop-color="#0a0850" stop-opacity="0.5"/><stop offset="1.0000" stop-color="#0a0850" stop-opacity="0.5"/></linearGradient></defs>
<defs><linearGradient id="vg2" gradientUnits="userSpaceOnUse" x1="0" x2="0" y1="298" y2="778"><stop offset="0.0000" stop-color="#141490" stop-opacity="0.6"/><stop offset="0.2542" stop-color="#141490" stop-opacity="0.6"/><stop offset="0.3271" stop-color="#3a2890" stop-opacity="0.5"/><stop offset="0.4000" stop-color="#4a2430" stop-opacity="0.48"/><stop offset="0.4833" stop-color="#4a2008" stop-opacity="0.5"/><stop offset="0.6708" stop-color="#4a2008" stop-opacity="0.45"/><stop offset="0.7542" stop-color="#200850" stop-opacity="0.5"/><stop offset="0.8375" stop-color="#060440" stop-opacity="0.55"/><stop offset="1.0000" stop-color="#060440" stop-opacity="0.55"/></linearGradient></defs>
<path d="M747.5,298.0 L746.3,304.0 L745.0,310.0 L743.5,316.0 L741.9,322.0 L740.3,328.0 L738.7,334.0 L737.1,340.0 L735.5,346.0 L734.0,352.0 L732.7,358.0 L731.6,364.0 L730.6,370.0 L729.9,376.0 L729.3,382.0 L728.9,388.0 L728.6,394.0 L728.4,400.0 L728.6,406.0 L729.0,412.0 L729.5,418.0 L730.1,424.0 L730.7,430.0 L731.4,436.0 L732.1,442.0 L732.9,448.0 L733.7,454.0 L734.5,460.0 L735.2,466.0 L735.8,472.0 L736.5,478.0 L737.3,484.0 L738.1,490.0 L739.0,496.0 L739.6,502.0 L740.2,508.0 L741.0,514.0 L741.7,520.0 L742.5,526.0 L743.2,532.0 L744.0,538.0 L744.7,544.0 L745.4,550.0 L746.2,556.0 L746.9,562.0 L747.6,568.0 L748.3,574.0 L748.9,580.0 L749.5,586.0 L750.0,592.0 L750.5,598.0 L751.0,604.0 L751.5,610.0 L752.0,616.0 L752.6,622.0 L753.2,628.0 L753.8,634.0 L754.4,640.0 L755.1,646.0 L755.7,652.0 L756.4,658.0 L757.0,664.0 L757.6,670.0 L758.2,676.0 L758.8,682.0 L759.3,688.0 L759.9,694.0 L760.4,700.0 L760.9,706.0 L761.5,712.0 L762.0,718.0 L762.5,724.0 L763.1,730.0 L763.7,736.0 L764.2,742.0 L764.8,748.0 L765.3,754.0 L765.9,760.0 L766.5,766.0 L767.0,772.0 L767.6,778.0 L768.6,778.0 L768.2,772.0 L767.7,766.0 L767.2,760.0 L766.7,754.0 L766.2,748.0 L765.7,742.0 L765.3,736.0 L764.8,730.0 L764.3,724.0 L763.8,718.0 L763.4,712.0 L762.9,706.0 L762.4,700.0 L762.0,694.0 L761.5,688.0 L761.1,682.0 L760.6,676.0 L760.1,670.0 L759.6,664.0 L759.0,658.0 L758.4,652.0 L757.9,646.0 L757.3,640.0 L756.7,634.0 L756.2,628.0 L755.7,622.0 L755.2,616.0 L754.8,610.0 L754.4,604.0 L754.0,598.0 L753.6,592.0 L753.1,586.0 L752.6,580.0 L752.1,574.0 L751.5,568.0 L750.9,562.0 L750.3,556.0 L749.7,550.0 L749.0,544.0 L748.4,538.0 L747.7,532.0 L747.1,526.0 L746.4,520.0 L745.8,514.0 L745.1,508.0 L744.6,502.0 L744.0,496.0 L743.3,490.0 L742.6,484.0 L741.9,478.0 L741.3,472.0 L740.7,466.0 L740.2,460.0 L739.5,454.0 L738.7,448.0 L738.1,442.0 L737.4,436.0 L736.9,430.0 L736.3,424.0 L735.9,418.0 L735.5,412.0 L735.1,406.0 L734.9,400.0 L735.0,394.0 L735.3,388.0 L735.7,382.0 L736.2,376.0 L736.9,370.0 L737.7,364.0 L738.7,358.0 L739.8,352.0 L741.1,346.0 L742.5,340.0 L743.9,334.0 L745.3,328.0 L746.7,322.0 L748.1,316.0 L749.3,310.0 L750.4,304.0 L751.4,298.0 Z" fill="url(#vg1)" filter="url(#b2)"/>
<path d="M746.5,298.0 L745.2,304.0 L743.8,310.0 L742.3,316.0 L740.6,322.0 L739.0,328.0 L737.3,334.0 L735.7,340.0 L734.0,346.0 L732.5,352.0 L731.2,358.0 L730.0,364.0 L729.0,370.0 L728.2,376.0 L727.6,382.0 L727.2,388.0 L726.8,394.0 L726.7,400.0 L726.9,406.0 L727.3,412.0 L727.8,418.0 L728.4,424.0 L729.1,430.0 L729.8,436.0 L730.5,442.0 L731.3,448.0 L732.2,454.0 L733.0,460.0 L733.7,466.0 L734.4,472.0 L735.1,478.0 L735.9,484.0 L736.8,490.0 L737.6,496.0 L738.3,502.0 L738.9,508.0 L739.7,514.0 L740.5,520.0 L741.2,526.0 L742.0,532.0 L742.8,538.0 L743.6,544.0 L744.3,550.0 L745.1,556.0 L745.8,562.0 L746.5,568.0 L747.2,574.0 L747.9,580.0 L748.5,586.0 L749.1,592.0 L749.6,598.0 L750.1,604.0 L750.6,610.0 L751.2,616.0 L751.7,622.0 L752.3,628.0 L753.0,634.0 L753.6,640.0 L754.3,646.0 L755.0,652.0 L755.7,658.0 L756.3,664.0 L757.0,670.0 L757.6,676.0 L758.2,682.0 L758.7,688.0 L759.3,694.0 L759.8,700.0 L760.4,706.0 L760.9,712.0 L761.5,718.0 L762.1,724.0 L762.7,730.0 L763.2,736.0 L763.8,742.0 L764.4,748.0 L765.0,754.0 L765.5,760.0 L766.1,766.0 L766.7,772.0 L767.3,778.0 L770.1,778.0 L769.8,772.0 L769.4,766.0 L769.0,760.0 L768.6,754.0 L768.2,748.0 L767.9,742.0 L767.5,736.0 L767.1,730.0 L766.7,724.0 L766.4,718.0 L766.0,712.0 L765.7,706.0 L765.3,700.0 L765.0,694.0 L764.6,688.0 L764.3,682.0 L763.9,676.0 L763.5,670.0 L763.1,664.0 L762.7,658.0 L762.2,652.0 L761.8,646.0 L761.3,640.0 L760.9,634.0 L760.5,628.0 L760.1,622.0 L759.8,616.0 L759.5,610.0 L759.2,604.0 L758.9,598.0 L758.6,592.0 L758.2,586.0 L757.9,580.0 L757.5,574.0 L757.0,568.0 L756.6,562.0 L756.1,556.0 L755.6,550.0 L755.1,544.0 L754.5,538.0 L754.0,532.0 L753.5,526.0 L753.0,520.0 L752.5,514.0 L752.0,508.0 L751.6,502.0 L751.1,496.0 L750.5,490.0 L749.9,484.0 L749.4,478.0 L748.9,472.0 L748.5,466.0 L748.1,460.0 L747.5,454.0 L746.9,448.0 L746.4,442.0 L745.9,436.0 L745.5,430.0 L745.1,424.0 L744.7,418.0 L744.4,412.0 L744.2,406.0 L744.0,400.0 L744.1,394.0 L744.4,388.0 L744.7,382.0 L745.0,376.0 L745.6,370.0 L746.3,364.0 L747.1,358.0 L748.0,352.0 L749.0,346.0 L750.1,340.0 L751.2,334.0 L752.3,328.0 L753.4,322.0 L754.4,316.0 L755.3,310.0 L756.1,304.0 L756.8,298.0 Z" fill="url(#vg1)" opacity="0.5" filter="url(#b3)"/>
<path d="M794.3,298.0 L795.6,304.0 L797.2,310.0 L798.7,316.0 L799.8,322.0 L800.9,328.0 L801.8,334.0 L802.8,340.0 L803.7,346.0 L804.5,352.0 L805.1,358.0 L805.7,364.0 L806.2,370.0 L806.6,376.0 L806.9,382.0 L807.2,388.0 L807.3,394.0 L807.4,400.0 L807.2,406.0 L806.9,412.0 L806.5,418.0 L805.9,424.0 L805.4,430.0 L804.9,436.0 L804.5,442.0 L804.0,448.0 L803.6,454.0 L803.2,460.0 L802.6,466.0 L802.1,472.0 L801.6,478.0 L801.2,484.0 L800.7,490.0 L800.3,496.0 L799.9,502.0 L799.6,508.0 L799.1,514.0 L798.7,520.0 L798.3,526.0 L797.9,532.0 L797.4,538.0 L797.0,544.0 L796.6,550.0 L796.2,556.0 L795.8,562.0 L795.3,568.0 L794.9,574.0 L794.4,580.0 L793.9,586.0 L793.3,592.0 L792.8,598.0 L792.2,604.0 L791.7,610.0 L791.2,616.0 L790.7,622.0 L790.2,628.0 L789.8,634.0 L789.4,640.0 L789.0,646.0 L788.6,652.0 L788.2,658.0 L787.8,664.0 L787.4,670.0 L787.0,676.0 L786.6,682.0 L786.2,688.0 L785.8,694.0 L785.4,700.0 L784.9,706.0 L784.5,712.0 L784.1,718.0 L783.8,724.0 L783.4,730.0 L783.0,736.0 L782.7,742.0 L782.3,748.0 L782.0,754.0 L781.6,760.0 L781.3,766.0 L780.9,772.0 L780.6,778.0 L783.0,778.0 L783.5,772.0 L784.1,766.0 L784.6,760.0 L785.1,754.0 L785.6,748.0 L786.1,742.0 L786.7,736.0 L787.2,730.0 L787.7,724.0 L788.3,718.0 L788.9,712.0 L789.4,706.0 L790.0,700.0 L790.6,694.0 L791.2,688.0 L791.8,682.0 L792.4,676.0 L793.0,670.0 L793.6,664.0 L794.2,658.0 L794.7,652.0 L795.3,646.0 L795.9,640.0 L796.5,634.0 L797.1,628.0 L797.8,622.0 L798.5,616.0 L799.2,610.0 L799.9,604.0 L800.7,598.0 L801.4,592.0 L802.2,586.0 L802.9,580.0 L803.6,574.0 L804.2,568.0 L804.9,562.0 L805.5,556.0 L806.2,550.0 L806.8,544.0 L807.4,538.0 L808.1,532.0 L808.7,526.0 L809.3,520.0 L810.0,514.0 L810.7,508.0 L811.2,502.0 L811.8,496.0 L812.4,490.0 L813.1,484.0 L813.8,478.0 L814.4,472.0 L815.2,466.0 L816.0,460.0 L816.7,454.0 L817.3,448.0 L818.0,442.0 L818.6,436.0 L819.3,430.0 L820.1,424.0 L820.8,418.0 L821.5,412.0 L821.9,406.0 L822.1,400.0 L822.1,394.0 L821.8,388.0 L821.4,382.0 L820.9,376.0 L820.3,370.0 L819.5,364.0 L818.6,358.0 L817.6,352.0 L816.4,346.0 L815.0,340.0 L813.6,334.0 L812.2,328.0 L810.6,322.0 L809.0,316.0 L807.0,310.0 L804.8,304.0 L803.1,298.0 Z" fill="url(#vg2)" opacity="0.6" filter="url(#b3)"/>
<path d="M798.7,298.0 L800.2,304.0 L802.1,310.0 L803.8,316.0 L805.2,322.0 L806.5,328.0 L807.7,334.0 L808.9,340.0 L810.0,346.0 L811.0,352.0 L811.9,358.0 L812.6,364.0 L813.2,370.0 L813.7,376.0 L814.2,382.0 L814.5,388.0 L814.7,394.0 L814.8,400.0 L814.6,406.0 L814.2,412.0 L813.6,418.0 L813.0,424.0 L812.4,430.0 L811.8,436.0 L811.2,442.0 L810.7,448.0 L810.1,454.0 L809.6,460.0 L808.9,466.0 L808.3,472.0 L807.7,478.0 L807.1,484.0 L806.6,490.0 L806.0,496.0 L805.6,502.0 L805.1,508.0 L804.6,514.0 L804.0,520.0 L803.5,526.0 L803.0,532.0 L802.4,538.0 L801.9,544.0 L801.4,550.0 L800.9,556.0 L800.3,562.0 L799.8,568.0 L799.2,574.0 L798.6,580.0 L798.0,586.0 L797.4,592.0 L796.7,598.0 L796.1,604.0 L795.5,610.0 L794.8,616.0 L794.2,622.0 L793.7,628.0 L793.2,634.0 L792.6,640.0 L792.2,646.0 L791.7,652.0 L791.2,658.0 L790.7,664.0 L790.2,670.0 L789.7,676.0 L789.2,682.0 L788.7,688.0 L788.2,694.0 L787.7,700.0 L787.2,706.0 L786.7,712.0 L786.2,718.0 L785.8,724.0 L785.3,730.0 L784.9,736.0 L784.4,742.0 L784.0,748.0 L783.5,754.0 L783.1,760.0 L782.7,766.0 L782.2,772.0 L781.8,778.0 L782.7,778.0 L783.2,772.0 L783.7,766.0 L784.2,760.0 L784.7,754.0 L785.2,748.0 L785.7,742.0 L786.2,736.0 L786.7,730.0 L787.3,724.0 L787.8,718.0 L788.3,712.0 L788.9,706.0 L789.5,700.0 L790.0,694.0 L790.6,688.0 L791.2,682.0 L791.8,676.0 L792.4,670.0 L792.9,664.0 L793.5,658.0 L794.0,652.0 L794.6,646.0 L795.1,640.0 L795.7,634.0 L796.3,628.0 L797.0,622.0 L797.6,616.0 L798.3,610.0 L799.0,604.0 L799.8,598.0 L800.5,592.0 L801.2,586.0 L801.9,580.0 L802.5,574.0 L803.2,568.0 L803.8,562.0 L804.4,556.0 L805.0,550.0 L805.6,544.0 L806.3,538.0 L806.9,532.0 L807.5,526.0 L808.1,520.0 L808.7,514.0 L809.4,508.0 L809.9,502.0 L810.4,496.0 L811.1,490.0 L811.7,484.0 L812.3,478.0 L813.0,472.0 L813.7,466.0 L814.5,460.0 L815.1,454.0 L815.7,448.0 L816.4,442.0 L817.0,436.0 L817.7,430.0 L818.4,424.0 L819.1,418.0 L819.8,412.0 L820.2,406.0 L820.4,400.0 L820.3,394.0 L820.1,388.0 L819.7,382.0 L819.2,376.0 L818.6,370.0 L817.9,364.0 L817.0,358.0 L816.1,352.0 L814.9,346.0 L813.6,340.0 L812.2,334.0 L810.9,328.0 L809.4,322.0 L807.8,316.0 L805.8,310.0 L803.7,304.0 L802.0,298.0 Z" fill="url(#vg2)" filter="url(#b2)"/>
<path d="M774.5,298.0 L774.7,304.0 L775.1,310.0 L775.3,316.0 L775.3,322.0 L775.2,328.0 L775.1,334.0 L775.0,340.0 L774.8,346.0 L774.7,352.0 L774.5,358.0 L774.3,364.0 L774.2,370.0 L774.1,376.0 L774.1,382.0 L774.1,388.0 L774.0,394.0 L774.0,400.0 L774.0,406.0 L774.0,412.0 L773.9,418.0 L773.8,424.0 L773.8,430.0 L773.8,436.0 L773.8,442.0 L773.9,448.0 L774.0,454.0 L774.1,460.0 L774.1,466.0 L774.0,472.0 L774.1,478.0 L774.1,484.0 L774.3,490.0 L774.4,496.0 L774.4,502.0 L774.5,508.0 L774.5,514.0 L774.6,520.0 L774.7,526.0 L774.7,532.0 L774.8,538.0 L774.9,544.0 L775.0,550.0 L775.0,556.0 L775.1,560.0 L789.7,560.0 L789.9,556.0 L790.1,550.0 L790.4,544.0 L790.7,538.0 L790.9,532.0 L791.2,526.0 L791.5,520.0 L791.8,514.0 L792.1,508.0 L792.3,502.0 L792.6,496.0 L792.8,490.0 L793.1,484.0 L793.4,478.0 L793.7,472.0 L794.1,466.0 L794.5,460.0 L794.8,454.0 L795.0,448.0 L795.3,442.0 L795.6,436.0 L796.0,430.0 L796.3,424.0 L796.7,418.0 L797.1,412.0 L797.3,406.0 L797.4,400.0 L797.4,394.0 L797.3,388.0 L797.1,382.0 L796.9,376.0 L796.6,370.0 L796.3,364.0 L796.0,358.0 L795.6,352.0 L795.1,346.0 L794.5,340.0 L793.9,334.0 L793.2,328.0 L792.5,322.0 L791.7,316.0 L790.6,310.0 L789.3,304.0 L788.4,298.0 Z" fill="url(#hlV)" filter="url(#b2)"/>
<path d="M773.7,556.0 L773.7,562.0 L773.8,568.0 L773.9,574.0 L773.9,580.0 L773.9,586.0 L773.8,592.0 L773.7,598.0 L773.7,604.0 L773.6,610.0 L773.5,616.0 L773.5,622.0 L773.5,628.0 L773.6,634.0 L773.6,640.0 L773.7,646.0 L773.8,652.0 L773.9,658.0 L774.0,664.0 L774.0,670.0 L774.1,676.0 L774.1,682.0 L774.1,688.0 L774.1,694.0 L774.1,700.0 L774.1,706.0 L774.1,712.0 L774.2,718.0 L774.2,724.0 L774.3,730.0 L774.3,736.0 L774.4,742.0 L774.4,748.0 L774.5,754.0 L774.5,760.0 L774.6,766.0 L774.7,772.0 L774.7,778.0 L779.2,778.0 L779.4,772.0 L779.7,766.0 L779.9,760.0 L780.2,754.0 L780.4,748.0 L780.7,742.0 L780.9,736.0 L781.2,730.0 L781.4,724.0 L781.7,718.0 L782.0,712.0 L782.3,706.0 L782.6,700.0 L782.9,694.0 L783.2,688.0 L783.6,682.0 L783.9,676.0 L784.2,670.0 L784.5,664.0 L784.7,658.0 L785.0,652.0 L785.3,646.0 L785.5,640.0 L785.8,634.0 L786.1,628.0 L786.5,622.0 L786.9,616.0 L787.3,610.0 L787.7,604.0 L788.1,598.0 L788.6,592.0 L789.0,586.0 L789.4,580.0 L789.7,574.0 L790.1,568.0 L790.4,562.0 L790.7,556.0 Z" fill="url(#hlV)" filter="url(#b1)"/>
<path d="M770.7,298.0 L770.7,304.0 L770.8,310.0 L770.8,316.0 L770.6,322.0 L770.3,328.0 L769.9,334.0 L769.6,340.0 L769.2,346.0 L768.9,352.0 L768.5,358.0 L768.2,364.0 L768.0,370.0 L767.8,376.0 L767.7,382.0 L767.6,388.0 L767.5,394.0 L767.5,400.0 L767.5,406.0 L767.6,412.0 L767.6,418.0 L767.6,424.0 L767.6,430.0 L767.7,436.0 L767.9,442.0 L768.0,448.0 L768.3,454.0 L768.5,460.0 L768.5,466.0 L768.6,472.0 L768.7,478.0 L768.9,484.0 L769.1,490.0 L769.3,496.0 L769.5,502.0 L769.6,508.0 L769.7,514.0 L769.9,520.0 L770.1,526.0 L770.2,532.0 L770.4,538.0 L770.6,544.0 L770.7,550.0 L770.9,556.0 L771.1,562.0 L771.2,568.0 L771.3,574.0 L771.4,580.0 L771.4,586.0 L771.4,592.0 L771.4,598.0 L771.4,604.0 L771.4,610.0 L771.4,616.0 L771.4,622.0 L771.5,628.0 L771.6,634.0 L771.7,640.0 L771.8,646.0 L772.0,652.0 L772.1,658.0 L772.3,664.0 L772.4,670.0 L772.5,676.0 L772.5,682.0 L772.6,688.0 L772.7,694.0 L772.7,700.0 L772.8,706.0 L772.9,712.0 L773.0,718.0 L773.0,724.0 L773.1,730.0 L773.2,736.0 L773.3,742.0 L773.5,748.0 L773.6,754.0 L773.7,760.0 L773.8,766.0 L773.9,772.0 L774.0,778.0 L780.0,778.0 L780.3,772.0 L780.6,766.0 L780.9,760.0 L781.2,754.0 L781.6,748.0 L781.9,742.0 L782.2,736.0 L782.5,730.0 L782.8,724.0 L783.2,718.0 L783.5,712.0 L783.9,706.0 L784.3,700.0 L784.6,694.0 L785.0,688.0 L785.4,682.0 L785.8,676.0 L786.1,670.0 L786.5,664.0 L786.8,658.0 L787.2,652.0 L787.5,646.0 L787.8,640.0 L788.2,634.0 L788.6,628.0 L789.0,622.0 L789.5,616.0 L789.9,610.0 L790.4,604.0 L790.9,598.0 L791.4,592.0 L791.9,586.0 L792.4,580.0 L792.8,574.0 L793.2,568.0 L793.6,562.0 L794.0,556.0 L794.4,550.0 L794.7,544.0 L795.1,538.0 L795.5,532.0 L795.8,526.0 L796.2,520.0 L796.6,514.0 L797.0,508.0 L797.3,502.0 L797.6,496.0 L798.0,490.0 L798.4,484.0 L798.7,478.0 L799.2,472.0 L799.6,466.0 L800.1,460.0 L800.5,454.0 L800.9,448.0 L801.3,442.0 L801.7,436.0 L802.1,430.0 L802.6,424.0 L803.1,418.0 L803.5,412.0 L803.8,406.0 L803.9,400.0 L803.9,394.0 L803.7,388.0 L803.5,382.0 L803.2,376.0 L802.8,370.0 L802.4,364.0 L801.9,358.0 L801.4,352.0 L800.7,346.0 L799.9,340.0 L799.1,334.0 L798.2,328.0 L797.3,322.0 L796.3,316.0 L794.9,310.0 L793.4,304.0 L792.3,298.0 Z" fill="#fff" opacity="0.08" filter="url(#b3)"/>
<defs><linearGradient id="vg3" gradientUnits="userSpaceOnUse" x1="0" x2="0" y1="298" y2="778"><stop offset="0.0000" stop-color="#fff" stop-opacity="0.24"/><stop offset="0.2750" stop-color="#fff" stop-opacity="0.24"/><stop offset="0.4208" stop-color="#fff" stop-opacity="0.0"/><stop offset="1.0000" stop-color="#fff" stop-opacity="0.0"/></linearGradient></defs>
<path d="M788.4,298.0 L789.3,304.0 L790.6,310.0 L791.7,316.0 L792.5,322.0 L793.2,328.0 L793.9,334.0 L794.5,340.0 L795.1,346.0 L795.6,352.0 L796.0,358.0 L796.3,364.0 L796.6,370.0 L796.9,376.0 L797.1,382.0 L797.3,388.0 L797.4,394.0 L797.4,400.0 L797.3,406.0 L797.1,412.0 L796.7,418.0 L796.3,424.0 L796.0,430.0 L795.6,436.0 L795.3,442.0 L795.0,448.0 L794.8,454.0 L794.5,460.0 L794.1,466.0 L793.7,472.0 L793.4,478.0 L793.1,484.0 L792.8,490.0 L792.6,496.0 L792.3,502.0 L792.1,508.0 L791.8,514.0 L791.5,520.0 L791.2,526.0 L790.9,532.0 L790.7,538.0 L790.4,544.0 L790.1,550.0 L789.9,556.0 L789.6,562.0 L789.3,568.0 L789.0,574.0 L788.6,580.0 L788.3,586.0 L787.9,592.0 L787.5,598.0 L787.0,604.0 L786.6,610.0 L786.2,616.0 L785.9,622.0 L785.5,628.0 L785.2,634.0 L785.0,640.0 L784.7,646.0 L784.5,652.0 L784.2,658.0 L783.9,664.0 L783.7,670.0 L783.4,676.0 L783.1,682.0 L782.8,688.0 L782.5,694.0 L782.2,700.0 L781.9,706.0 L781.6,712.0 L781.3,718.0 L781.1,724.0 L780.8,730.0 L780.6,736.0 L780.4,742.0 L780.1,748.0 L779.9,754.0 L779.6,760.0 L779.4,766.0 L779.2,772.0 L778.9,778.0 L781.7,778.0 L782.1,772.0 L782.5,766.0 L782.9,760.0 L783.4,754.0 L783.8,748.0 L784.2,742.0 L784.6,736.0 L785.1,730.0 L785.5,724.0 L786.0,718.0 L786.4,712.0 L786.9,706.0 L787.4,700.0 L787.9,694.0 L788.4,688.0 L788.9,682.0 L789.4,676.0 L789.9,670.0 L790.4,664.0 L790.8,658.0 L791.3,652.0 L791.8,646.0 L792.3,640.0 L792.8,634.0 L793.3,628.0 L793.8,622.0 L794.4,616.0 L795.0,610.0 L795.6,604.0 L796.3,598.0 L796.9,592.0 L797.5,586.0 L798.1,580.0 L798.7,574.0 L799.2,568.0 L799.8,562.0 L800.3,556.0 L800.8,550.0 L801.3,544.0 L801.8,538.0 L802.4,532.0 L802.9,526.0 L803.4,520.0 L803.9,514.0 L804.5,508.0 L804.9,502.0 L805.4,496.0 L805.9,490.0 L806.4,484.0 L807.0,478.0 L807.5,472.0 L808.2,466.0 L808.8,460.0 L809.4,454.0 L809.9,448.0 L810.4,442.0 L811.0,436.0 L811.6,430.0 L812.2,424.0 L812.8,418.0 L813.3,412.0 L813.7,406.0 L813.9,400.0 L813.8,394.0 L813.6,388.0 L813.3,382.0 L812.9,376.0 L812.4,370.0 L811.8,364.0 L811.1,358.0 L810.3,352.0 L809.3,346.0 L808.2,340.0 L807.0,334.0 L805.9,328.0 L804.6,322.0 L803.2,316.0 L801.5,310.0 L799.6,304.0 L798.2,298.0 Z" fill="url(#vg3)" filter="url(#b2)"/>
<path d="M791.6,300.0 L792.9,306.0 L794.4,312.0 L795.5,318.0 L796.4,324.0 L797.3,330.0 L798.1,336.0 L798.8,342.0 L799.5,348.0 L800.2,354.0 L800.7,360.0 L801.1,366.0 L801.5,372.0 L801.8,378.0 L802.1,384.0 L802.2,390.0 L802.3,396.0 L802.3,402.0 L806.3,402.0 L806.3,396.0 L806.2,390.0 L806.0,384.0 L805.7,378.0 L805.3,372.0 L804.9,366.0 L804.4,360.0 L803.7,354.0 L803.0,348.0 L802.2,342.0 L801.3,336.0 L800.4,330.0 L799.4,324.0 L798.3,318.0 L797.1,312.0 L795.4,306.0 L794.0,300.0 Z" fill="#b45ad6" opacity="0.6" filter="url(#b2)"/>
<defs><linearGradient id="vg4" gradientUnits="userSpaceOnUse" x1="0" x2="0" y1="396" y2="440"><stop offset="0.0000" stop-color="#b45ad6" stop-opacity="0.5"/><stop offset="1.0000" stop-color="#c070c0" stop-opacity="0.0"/></linearGradient></defs>
<path d="M802.3,396.0 L802.3,402.0 L802.2,408.0 L801.8,414.0 L801.4,420.0 L800.9,426.0 L800.5,432.0 L800.1,438.0 L800.0,440.0 L803.6,440.0 L803.8,438.0 L804.2,432.0 L804.7,426.0 L805.3,420.0 L805.8,414.0 L806.1,408.0 L806.3,402.0 L806.3,396.0 Z" fill="url(#vg4)" filter="url(#b2)"/>
<path d="M802.4,366.0 L802.8,372.0 L803.1,378.0 L803.4,384.0 L803.6,390.0 L803.7,396.0 L803.7,402.0 L803.6,406.0 L806.2,406.0 L806.3,402.0 L806.3,396.0 L806.2,390.0 L806.0,384.0 L805.7,378.0 L805.3,372.0 L804.9,366.0 Z" fill="#9ab8fa" opacity="0.8" filter="url(#b05)"/>
</g>
<rect x="767.8" y="776.6" width="14.6" height="3" fill="#20206a"/>
<rect x="772.6" y="776.4" width="7.2" height="2.8" rx="1.2" fill="#f0f0f8" filter="url(#b05)"/>
<path d="M768.3,779.5 L781.3,779.5 L779.3,811 L770.7,811 Z" fill="#151515"/>
<path d="M769.5,779.5 L772,779.5 L773,811 L771,811 Z" fill="#555" opacity="0.8"/>
<rect x="770.6" y="810.6" width="8.6" height="3.8" fill="#1a1a1a"/>
<rect x="772.6" y="810.8" width="6.2" height="3.6" rx="1.6" fill="#f4f4f4" filter="url(#b05)"/>
<path d="M771.2,814 L778.8,814 L778,1000 L771.3,1000 Z" fill="#121212"/>
<path d="M772,814 L773.5,814 L773,1000 L772,1000 Z" fill="#3c3c3c"/>
<g fill="#c8ccff" clip-path="url(#bigclip)">
<circle cx="755.2" cy="381.4" r="0.60" opacity="0.48"/>
<circle cx="770.5" cy="335.5" r="0.70" opacity="0.49"/>
<circle cx="761.3" cy="335.1" r="0.60" opacity="0.42"/>
<circle cx="741.4" cy="412.4" r="0.40" opacity="0.54"/>
<circle cx="753.1" cy="368.2" r="0.70" opacity="0.56"/>
<circle cx="761.7" cy="415.1" r="0.40" opacity="0.32"/>
<circle cx="745.2" cy="342.0" r="0.40" opacity="0.61"/>
<circle cx="750.4" cy="385.3" r="0.45" opacity="0.51"/>
<circle cx="762.3" cy="374.0" r="0.40" opacity="0.48"/>
<circle cx="748.6" cy="435.7" r="0.40" opacity="0.58"/>
<circle cx="750.0" cy="340.5" r="0.50" opacity="0.31"/>
<circle cx="759.4" cy="325.4" r="0.40" opacity="0.64"/>
<circle cx="752.7" cy="430.8" r="0.40" opacity="0.39"/>
<circle cx="773.2" cy="318.5" r="0.60" opacity="0.69"/>
<circle cx="753.1" cy="321.1" r="0.45" opacity="0.61"/>
<circle cx="748.3" cy="322.8" r="0.50" opacity="0.31"/>
<circle cx="753.6" cy="426.4" r="0.45" opacity="0.40"/>
<circle cx="741.8" cy="319.4" r="0.60" opacity="0.37"/>
<circle cx="759.3" cy="367.5" r="0.45" opacity="0.69"/>
<circle cx="767.2" cy="364.0" r="0.60" opacity="0.35"/>
<circle cx="754.0" cy="338.4" r="0.50" opacity="0.65"/>
<circle cx="775.0" cy="385.5" r="0.40" opacity="0.38"/>
<circle cx="753.0" cy="417.9" r="0.70" opacity="0.34"/>
<circle cx="775.6" cy="338.4" r="0.50" opacity="0.30"/>
<circle cx="761.2" cy="415.0" r="0.60" opacity="0.33"/>
<circle cx="741.4" cy="384.3" r="0.45" opacity="0.31"/>
<circle cx="752.0" cy="389.1" r="0.45" opacity="0.68"/>
<circle cx="756.4" cy="383.2" r="0.60" opacity="0.37"/>
<circle cx="743.9" cy="424.6" r="0.70" opacity="0.40"/>
<circle cx="745.2" cy="403.7" r="0.70" opacity="0.38"/>
<circle cx="774.1" cy="421.4" r="0.70" opacity="0.33"/>
<circle cx="739.8" cy="325.5" r="0.70" opacity="0.69"/>
<circle cx="747.1" cy="399.4" r="0.50" opacity="0.47"/>
<circle cx="772.4" cy="372.9" r="0.70" opacity="0.37"/>
<circle cx="765.4" cy="320.5" r="0.45" opacity="0.49"/>
<circle cx="762.8" cy="388.4" r="0.40" opacity="0.41"/>
<circle cx="772.9" cy="337.3" r="0.40" opacity="0.33"/>
<circle cx="753.6" cy="342.9" r="0.40" opacity="0.37"/>
<circle cx="752.0" cy="382.9" r="0.45" opacity="0.34"/>
<circle cx="743.3" cy="367.8" r="0.50" opacity="0.56"/>
<circle cx="764.3" cy="384.5" r="0.45" opacity="0.54"/>
<circle cx="773.1" cy="370.9" r="0.50" opacity="0.58"/>
<circle cx="774.6" cy="314.6" r="0.40" opacity="0.49"/>
<circle cx="765.8" cy="351.5" r="0.40" opacity="0.33"/>
<circle cx="758.8" cy="403.4" r="0.45" opacity="0.62"/>
<circle cx="772.8" cy="355.6" r="0.60" opacity="0.66"/>
<circle cx="771.1" cy="363.7" r="0.40" opacity="0.65"/>
<circle cx="759.8" cy="389.5" r="0.60" opacity="0.45"/>
<circle cx="738.5" cy="321.0" r="0.40" opacity="0.56"/>
<circle cx="775.7" cy="421.1" r="0.50" opacity="0.46"/>
<circle cx="765.9" cy="384.0" r="0.60" opacity="0.49"/>
<circle cx="758.6" cy="376.3" r="0.70" opacity="0.31"/>
<circle cx="760.8" cy="371.6" r="0.45" opacity="0.68"/>
<circle cx="742.3" cy="408.7" r="0.60" opacity="0.40"/>
<circle cx="738.4" cy="349.3" r="0.70" opacity="0.38"/>
<circle cx="744.4" cy="424.3" r="0.60" opacity="0.50"/>
<circle cx="747.2" cy="362.2" r="0.50" opacity="0.38"/>
<circle cx="754.4" cy="411.9" r="0.45" opacity="0.65"/>
<circle cx="752.6" cy="384.3" r="0.50" opacity="0.38"/>
<circle cx="743.1" cy="355.5" r="0.40" opacity="0.58"/>
<circle cx="774.1" cy="346.3" r="0.45" opacity="0.35"/>
<circle cx="755.9" cy="426.8" r="0.60" opacity="0.45"/>
<circle cx="757.8" cy="395.3" r="0.70" opacity="0.48"/>
<circle cx="740.8" cy="315.9" r="0.70" opacity="0.32"/>
<circle cx="764.9" cy="382.8" r="0.50" opacity="0.56"/>
<circle cx="759.4" cy="391.5" r="0.60" opacity="0.48"/>
<circle cx="738.9" cy="414.9" r="0.45" opacity="0.61"/>
<circle cx="768.3" cy="434.0" r="0.40" opacity="0.48"/>
<circle cx="761.9" cy="393.2" r="0.50" opacity="0.68"/>
<circle cx="764.0" cy="336.7" r="0.60" opacity="0.40"/>
<circle cx="802.3" cy="413.1" r="0.5" opacity="0.46"/>
<circle cx="779.2" cy="354.9" r="0.5" opacity="0.53"/>
<circle cx="796.3" cy="434.2" r="0.5" opacity="0.45"/>
<circle cx="811.9" cy="347.5" r="0.5" opacity="0.55"/>
<circle cx="801.8" cy="354.6" r="0.5" opacity="0.42"/>
<circle cx="808.4" cy="372.7" r="0.5" opacity="0.44"/>
<circle cx="784.7" cy="427.6" r="0.5" opacity="0.30"/>
<circle cx="796.7" cy="401.8" r="0.5" opacity="0.45"/>
<circle cx="805.9" cy="367.7" r="0.5" opacity="0.40"/>
<circle cx="811.4" cy="340.9" r="0.5" opacity="0.56"/>
<circle cx="805.1" cy="431.7" r="0.5" opacity="0.34"/>
<circle cx="786.2" cy="372.9" r="0.5" opacity="0.33"/>
<circle cx="788.5" cy="437.4" r="0.5" opacity="0.58"/>
<circle cx="786.9" cy="409.0" r="0.5" opacity="0.30"/>
</g>
<g filter="url(#b05)">
<path d="M778.2,426.7 C766,430.5 753,441 754,452 C759,458 767,460.5 774,460.5 C767,456 764.5,449.5 766,443 C767.5,437 771.5,431 778.2,426.7 Z" fill="#860c22" stroke="#860c22" stroke-width="0.7" stroke-linejoin="round"/>
<path d="M785.4,434.4 C777,437.5 769,444 768.6,451.5 C772.5,455.5 778.5,458 783.6,458.2 C778.5,454.5 776.5,450 777.3,446 C778,442 781,438 785.4,434.4 Z" fill="#9e122a" stroke="#9e122a" stroke-width="0.6" stroke-linejoin="round"/>
<circle cx="788.6" cy="427.2" r="2.0" fill="#b01838"/>
<circle cx="791.7" cy="442.5" r="2.3" fill="#a8163a"/>
<circle cx="786.3" cy="450.2" r="2.1" fill="#a8163a"/>
<path d="M743.5,479.8 C760,468 780,461 802,460.3 C780,463.5 762,470.5 743.5,479.8 Z" fill="#a41226" stroke="#a41226" stroke-width="1.7" stroke-linejoin="round"/>
<path id="bycurve" d="M756.5,482.5 C772,474.5 787,470.5 803.5,469.5" fill="none"/>
<text font-size="7.6" font-weight="bold" fill="#9a1c30" stroke="#9a1c30" stroke-width="0.35" letter-spacing="1.0"><textPath href="#bycurve">BING YING</textPath></text>
</g>
<defs><linearGradient id="sw1" gradientUnits="userSpaceOnUse" x1="779" y1="502" x2="795" y2="510"><stop offset="0" stop-color="#1c1008"/><stop offset="0.32" stop-color="#3a0c08"/><stop offset="0.5" stop-color="#b01410"/><stop offset="0.85" stop-color="#c81c14"/><stop offset="1" stop-color="#8a3a18"/></linearGradient>
<linearGradient id="sw2" gradientUnits="userSpaceOnUse" x1="0" y1="535" x2="0" y2="571"><stop offset="0" stop-color="#4a3c0c"/><stop offset="0.2" stop-color="#6a4a14"/><stop offset="0.35" stop-color="#a84028"/><stop offset="0.7" stop-color="#c03a24"/><stop offset="0.8" stop-color="#e23018"/><stop offset="1" stop-color="#c8401c"/></linearGradient></defs>
<g fill="none" stroke="#1e1208" stroke-linecap="round" stroke-linejoin="round" filter="url(#b05)">
<path d="M761.9,496.2 L764.6,497.7" stroke-width="2.3"/>
<path d="M766.6,500.4 L771.6,501.8" stroke-width="1.8"/>
<path d="M771.8,502 C768,506 763.5,509.6 758.4,511.4" stroke-width="2.3"/>
<path d="M771.6,502.6 L768.8,508.6 C771.5,506.5 774.2,503.8 776.3,501.2" stroke-width="1.6"/>
<path d="M777.5,485.8 C777.6,497 777.3,508 777,518.2 C775.6,516.8 774.5,515.4 773.8,514" stroke-width="2.5"/>
<path d="M778.2,498 C781,496 783.8,493.6 785.8,491.8 C784.6,495.4 782.2,499.2 779.7,502" stroke-width="2.0"/>
<path d="M779.7,502 C784,506.5 789,509.3 795,510.2" stroke-width="2.3" stroke="url(#sw1)"/>
<path d="M765.1,536.8 C765.6,540 766,543.4 766.5,546.4" stroke-width="2.1"/>
<path d="M765.6,537.2 C768.5,535.6 771.6,534.2 774.2,533.4 C774.4,536.4 774,539.6 773.5,542.4 C771.4,544 769.2,545.4 767,546.4" stroke-width="1.9"/>
<path d="M766.6,542 C768.8,541 771,540.2 773,539.4" stroke-width="1.6"/>
<path d="M756.8,553.9 C763,552.6 769.6,551.4 775.9,550.6" stroke-width="2.2"/>
<path d="M769.6,546.6 L769.8,551" stroke-width="1.6"/>
<path d="M767,552.4 L768,556.4 M768,553 C770.5,552.2 773,551.6 774.8,551.4 C774.8,553.2 774.5,554.8 774.2,556 C772.2,556.4 770,556.6 768.2,556.8" stroke-width="1.7"/>
<path d="M766.5,556.8 C764.8,559 762.6,560.8 760.5,562.2 C760.6,563.4 761,564.6 761.6,565.4" stroke-width="2.0"/>
<path d="M768.3,556.8 C768.5,560 768.7,563.4 769,566.4 C768.2,565.6 767.4,564.6 766.8,563.6" stroke-width="2.2"/>
<path d="M773.5,557.6 C774.6,558.8 775.8,560 777,561" stroke-width="2.2"/>
<path d="M780.5,542.3 C782,540 783.6,538 785.2,536.3 C786.4,535.4 787.6,535.2 788.5,535.7 C788.8,537 788.7,538 788.4,539.2 C787.4,541 786.8,542.8 786.6,544.6 C786.6,547.4 787,550 787.4,552.8 C787.7,555.6 787.9,558.4 788,561 C789.4,562.4 790.6,563.6 791.8,564.6 C788.2,566.8 784.4,568.8 780.3,570.6" stroke-width="1.9" stroke="url(#sw2)"/>
<path d="M788.6,562 L791.8,564.6 L787,567.4 Z" fill="#e23018" stroke="none"/>
</g>
<g filter="url(#b05)">
<g fill="none" stroke="#35205e" stroke-width="1.7" stroke-linecap="round"><path d="M778.2,610.5 C781,613 778.6,615.5 776.6,617.5 C775,619.5 776.4,621.6 778.4,623"/><path d="M772.6,610.5 C775.4,613 773,615.5 771,617.5 C769.4,619.5 770.8,621.6 772.8,623"/></g>
<text transform="translate(769.7,629.6) rotate(90)" font-size="16.6" fill="#3a1c50" letter-spacing="0">1.4g</text>
<text transform="translate(769.4,689) rotate(90)" font-size="14.6" font-weight="bold" fill="#10105c" letter-spacing="2.4">GN-01</text>
</g>
<g filter="url(#b05)">
<rect x="875.50" y="247.0" width="3.00" height="9.0" fill="#4a6a40"/>
<rect x="875.30" y="255.0" width="3.40" height="7.0" fill="#7a4a38"/>
<rect x="875.00" y="288.0" width="3.60" height="9.0" fill="#4a4030"/>
<rect x="875.00" y="325.0" width="3.60" height="8.0" fill="#3a4a30"/>
<rect x="875.00" y="358.0" width="3.60" height="8.0" fill="#4a4030"/>
<rect x="874.70" y="393.0" width="4.20" height="6.0" fill="#3a3a30"/>
<rect x="874.40" y="399.0" width="4.80" height="30.0" fill="#c04a48"/>
<rect x="874.40" y="429.0" width="4.80" height="5.0" fill="#33302c"/>
<rect x="874.40" y="434.0" width="4.80" height="29.0" fill="#38b03c"/>
<rect x="874.40" y="463.0" width="4.80" height="4.5" fill="#33302c"/>
<rect x="874.40" y="467.5" width="4.80" height="27.5" fill="#c0444c"/>
<rect x="874.40" y="495.0" width="4.80" height="4.0" fill="#33302c"/>
<rect x="874.40" y="499.0" width="4.80" height="23.0" fill="#b4b4b4"/>
<rect x="874.40" y="522.0" width="4.80" height="27.0" fill="#454545"/>
<rect x="877.40" y="399" width="1.2" height="150" fill="#fff" opacity="0.22"/>
<rect x="874.40" y="399" width="1.1" height="150" fill="#201810" opacity="0.45"/>
<path d="M876,204.2 Q878.9,204.4 879,208.5 L879,246.5 L875.8,249 Q872.5,244.5 872.6,238 L872.8,213 Q873,205.2 876,204.2 Z" fill="#2eb83a"/>
<rect x="875.2" y="207.5" width="3.2" height="39" rx="1.5" fill="#3bd84a"/>
<rect x="873.3" y="260.0" width="8.5" height="30.0" rx="4.2" ry="9.0" fill="#e25a1e"/>
<rect x="875.2" y="263.0" width="3.2" height="24.0" rx="1.5" fill="#f2682a"/>
<rect x="872.3" y="295.0" width="9.1" height="31.0" rx="4.6" ry="9.0" fill="#2eb83a"/>
<rect x="875.2" y="298.0" width="3.2" height="25.0" rx="1.5" fill="#3bd84a"/>
<rect x="873.0" y="331.5" width="8.5" height="28.0" rx="4.2" ry="9.0" fill="#e25a1e"/>
<rect x="875.2" y="334.5" width="3.2" height="22.0" rx="1.5" fill="#f2682a"/>
<rect x="872.2" y="364.5" width="9.4" height="30.0" rx="4.7" ry="9.0" fill="#2eb83a"/>
<rect x="875.2" y="367.5" width="3.2" height="24.0" rx="1.5" fill="#3bd84a"/>
<circle cx="877.0" cy="211.0" r="1.05" fill="#8df598"/>
<circle cx="877.0" cy="217.0" r="1.05" fill="#8df598"/>
<circle cx="877.0" cy="223.0" r="1.05" fill="#8df598"/>
<circle cx="877.0" cy="229.0" r="1.05" fill="#8df598"/>
<circle cx="877.0" cy="234.6" r="1.05" fill="#8df598"/>
<circle cx="877.0" cy="240.0" r="1.05" fill="#8df598"/>
<circle cx="877.0" cy="245.4" r="1.05" fill="#8df598"/>
<circle cx="877.0" cy="266.4" r="1.05" fill="#ffae7a"/>
<circle cx="877.0" cy="271.8" r="1.05" fill="#ffae7a"/>
<circle cx="877.0" cy="277.2" r="1.05" fill="#ffae7a"/>
<circle cx="877.0" cy="283.2" r="1.05" fill="#ffae7a"/>
<circle cx="877.0" cy="302.0" r="1.05" fill="#8df598"/>
<circle cx="877.0" cy="308.0" r="1.05" fill="#8df598"/>
<circle cx="877.0" cy="314.0" r="1.05" fill="#8df598"/>
<circle cx="877.0" cy="320.0" r="1.05" fill="#8df598"/>
<circle cx="877.0" cy="337.5" r="1.05" fill="#ffae7a"/>
<circle cx="877.0" cy="343.0" r="1.05" fill="#ffae7a"/>
<circle cx="877.0" cy="348.5" r="1.05" fill="#ffae7a"/>
<circle cx="877.0" cy="354.0" r="1.05" fill="#ffae7a"/>
<circle cx="877.0" cy="371.0" r="1.05" fill="#8df598"/>
<circle cx="877.0" cy="377.0" r="1.05" fill="#8df598"/>
<circle cx="877.0" cy="383.0" r="1.05" fill="#8df598"/>
<circle cx="877.0" cy="389.0" r="1.05" fill="#8df598"/>
</g>
<defs><clipPath id="smclip"><path d="M874.60,548.00 C874.37,553.33 873.67,571.33 873.20,580.00 C872.73,588.67 872.23,593.20 871.80,600.00 C871.37,606.80 871.33,616.47 870.60,620.80 C869.87,625.13 868.27,624.13 867.40,626.00 C866.53,627.87 865.93,629.67 865.40,632.00 C864.87,634.33 864.28,636.00 864.20,640.00 C864.12,644.00 864.43,650.67 864.90,656.00 C865.37,661.33 866.30,666.67 867.00,672.00 C867.70,677.33 868.43,682.67 869.10,688.00 C869.77,693.33 870.47,698.67 871.00,704.00 C871.53,709.33 871.90,714.67 872.30,720.00 C872.70,725.33 873.08,730.83 873.40,736.00 C873.72,741.17 874.07,748.50 874.20,751.00 L879.80,751.00 C879.98,748.50 880.50,741.17 880.90,736.00 C881.30,730.83 881.72,725.33 882.20,720.00 C882.68,714.67 883.27,709.33 883.80,704.00 C884.33,698.67 884.87,693.33 885.40,688.00 C885.93,682.67 886.47,677.33 887.00,672.00 C887.53,666.67 888.28,661.33 888.60,656.00 C888.92,650.67 889.02,644.00 888.90,640.00 C888.78,636.00 888.25,634.33 887.90,632.00 C887.55,629.67 887.28,627.87 886.80,626.00 C886.32,624.13 885.80,625.13 885.00,620.80 C884.20,616.47 882.77,606.80 882.00,600.00 C881.23,593.20 880.87,588.67 880.40,580.00 C879.93,571.33 879.40,553.33 879.20,548.00 Z"/></clipPath>
<linearGradient id="smV" x1="0" x2="0" y1="621" y2="752" gradientUnits="userSpaceOnUse">
<stop offset="0" stop-color="#3c3cd2"/><stop offset="0.2" stop-color="#4040d4"/><stop offset="0.27" stop-color="#6a4cc0"/><stop offset="0.33" stop-color="#c888b0"/><stop offset="0.40" stop-color="#f0b488"/><stop offset="0.46" stop-color="#f8cc64"/><stop offset="0.56" stop-color="#f6c870"/><stop offset="0.62" stop-color="#f0acb0"/><stop offset="0.69" stop-color="#d090d8"/><stop offset="0.76" stop-color="#6c58d0"/><stop offset="0.84" stop-color="#4040d0"/><stop offset="1" stop-color="#3838c8"/></linearGradient>
<linearGradient id="smH" x1="0" x2="1" y1="0" y2="0"><stop offset="0" stop-color="#000040" stop-opacity="0.5"/><stop offset="0.18" stop-color="#000040" stop-opacity="0.05"/><stop offset="0.5" stop-color="#fff" stop-opacity="0.18"/><stop offset="0.72" stop-color="#fff" stop-opacity="0.22"/><stop offset="0.88" stop-color="#000040" stop-opacity="0.05"/><stop offset="1" stop-color="#000040" stop-opacity="0.6"/></linearGradient>
</defs>
<g clip-path="url(#smclip)" filter="url(#b05)">
<rect x="860" y="545" width="35" height="77" fill="#1b1b1b"/>
<path d="M875,548 L877,548 L876,621 L870,621 Z" fill="#3d3d3d"/>
<rect x="860" y="619" width="35" height="3" fill="#0e0e0e"/>
<rect x="860" y="622" width="35" height="131" fill="url(#smV)"/>
<path d="M869.8,621.0 L867.3,625.0 L865.2,629.0 L864.0,633.0 L863.2,637.0 L863.0,641.0 L863.0,645.0 L863.2,649.0 L863.5,653.0 L863.8,657.0 L864.3,661.0 L864.9,665.0 L865.5,669.0 L866.1,673.0 L866.7,677.0 L867.3,681.0 L867.9,685.0 L868.4,689.0 L869.0,693.0 L869.5,697.0 L870.0,701.0 L870.5,705.0 L870.9,709.0 L871.2,713.0 L871.6,717.0 L871.9,721.0 L872.2,725.0 L872.5,729.0 L872.8,733.0 L873.1,737.0 L873.3,741.0 L873.6,745.0 L873.8,749.0 L873.9,752.0 L874.8,752.0 L874.7,749.0 L874.5,745.0 L874.4,741.0 L874.2,737.0 L874.0,733.0 L873.8,729.0 L873.6,725.0 L873.3,721.0 L873.1,717.0 L872.9,713.0 L872.6,709.0 L872.4,705.0 L872.0,701.0 L871.6,697.0 L871.2,693.0 L870.8,689.0 L870.4,685.0 L870.0,681.0 L869.5,677.0 L869.1,673.0 L868.7,669.0 L868.2,665.0 L867.7,661.0 L867.3,657.0 L867.1,653.0 L866.9,649.0 L866.7,645.0 L866.7,641.0 L866.8,637.0 L867.5,633.0 L868.3,629.0 L870.0,625.0 L872.0,621.0 Z" fill="#000048" opacity="0.42" filter="url(#b2)"/>
<path d="M877.8,621.0 L877.3,625.0 L876.8,629.0 L876.6,633.0 L876.5,637.0 L876.6,641.0 L876.6,645.0 L876.6,649.0 L876.7,653.0 L876.8,657.0 L876.8,661.0 L876.9,665.0 L877.0,669.0 L877.0,673.0 L877.1,677.0 L877.1,681.0 L877.2,685.0 L877.3,689.0 L877.3,693.0 L877.4,697.0 L877.4,701.0 L877.4,705.0 L877.4,709.0 L877.3,713.0 L877.3,717.0 L877.2,721.0 L877.2,725.0 L877.2,729.0 L877.2,733.0 L877.1,737.0 L877.1,741.0 L877.1,745.0 L877.0,749.0 L877.0,752.0 L878.7,752.0 L878.8,749.0 L879.0,745.0 L879.2,741.0 L879.4,737.0 L879.5,733.0 L879.7,729.0 L879.9,725.0 L880.2,721.0 L880.4,717.0 L880.7,713.0 L880.9,709.0 L881.2,705.0 L881.4,701.0 L881.6,697.0 L881.9,693.0 L882.1,689.0 L882.3,685.0 L882.5,681.0 L882.7,677.0 L882.9,673.0 L883.2,669.0 L883.4,665.0 L883.6,661.0 L883.8,657.0 L883.9,653.0 L884.0,649.0 L884.0,645.0 L884.0,641.0 L883.8,637.0 L883.5,633.0 L883.2,629.0 L882.8,625.0 L882.1,621.0 Z" fill="#fff" opacity="0.2" filter="url(#b2)"/>
<path d="M884.0,621.0 L885.1,625.0 L885.9,629.0 L886.5,633.0 L887.0,637.0 L887.2,641.0 L887.2,645.0 L887.2,649.0 L887.1,653.0 L886.9,657.0 L886.6,661.0 L886.2,665.0 L885.9,669.0 L885.5,673.0 L885.2,677.0 L884.8,681.0 L884.5,685.0 L884.2,689.0 L883.8,693.0 L883.5,697.0 L883.2,701.0 L882.8,705.0 L882.5,709.0 L882.1,713.0 L881.8,717.0 L881.4,721.0 L881.1,725.0 L880.8,729.0 L880.6,733.0 L880.3,737.0 L880.0,741.0 L879.8,745.0 L879.5,749.0 L879.4,752.0 L880.1,752.0 L880.3,749.0 L880.6,745.0 L880.9,741.0 L881.3,737.0 L881.6,733.0 L882.0,729.0 L882.3,725.0 L882.7,721.0 L883.1,717.0 L883.5,713.0 L884.0,709.0 L884.5,705.0 L884.9,701.0 L885.4,697.0 L885.8,693.0 L886.3,689.0 L886.7,685.0 L887.2,681.0 L887.6,677.0 L888.1,673.0 L888.6,669.0 L889.1,665.0 L889.6,661.0 L889.9,657.0 L890.2,653.0 L890.3,649.0 L890.4,645.0 L890.4,641.0 L890.2,637.0 L889.4,633.0 L888.7,629.0 L887.5,625.0 L885.9,621.0 Z" fill="#000040" opacity="0.5" filter="url(#b2)"/>
<path d="M877,661.5 C873,663 871,666 871,669 C873,670.2 875,670.6 876.5,670.6 C874.6,668 874.6,664.5 877,661.5 Z" fill="#901428"/>
<path d="M880.4,663.5 C877.5,665 876.5,667 876.5,669.2 C878,670 879.4,670.3 880.4,670.3 C878.8,668.3 878.8,665.8 880.4,663.5 Z" fill="#a0182c"/>
<path d="M868.5,674.5 C872,672.5 877,671.5 884,671.3" stroke="#a01828" stroke-width="1" fill="none"/>
<path d="M874,679 L879.5,676.5 M876.5,676 L876.8,684 M873,683.5 L880.5,682 M873.5,689 L880,687.5 M875,686.5 L876,693 M879.5,686 L880.5,692" stroke="#3a2418" stroke-width="0.9" fill="none" opacity="0.7"/>
<path d="M876,702 L876.3,712" stroke="#6a3a88" stroke-width="1.4" fill="none" opacity="0.3"/>
<path d="M876.2,722 L876.4,736" stroke="#18186a" stroke-width="1.4" fill="none" opacity="0.3"/>
</g>
<g filter="url(#b05)">
<rect x="873.7" y="750" width="6" height="37" fill="#1c1c1c"/>
<rect x="874.6" y="751" width="1.2" height="36" fill="#4a4a4a"/>
<rect x="874.1" y="787" width="3.8" height="190" fill="#3a3a3a"/>
<path d="M874.1,977 L877.9,977 L876.6,988.5 L874.3,988.5 Z" fill="#a8a8a8"/>
</g>
</svg>
</body></html>
